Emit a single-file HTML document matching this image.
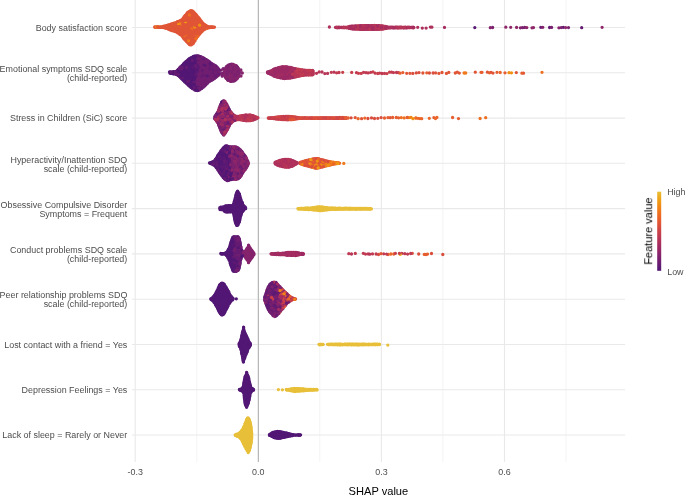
<!DOCTYPE html>
<html><head><meta charset="utf-8"><style>
html,body{margin:0;padding:0;background:#fff;}
svg{display:block;}
text{font-family:"Liberation Sans",sans-serif;}
</style></head><body>
<svg width="685" height="496" viewBox="0 0 685 496">
<defs><linearGradient id="lg" x1="0" y1="0" x2="0" y2="1"><stop offset="0.00" stop-color="#e8bf38"/><stop offset="0.10" stop-color="#efa116"/><stop offset="0.20" stop-color="#f18417"/><stop offset="0.30" stop-color="#ee6a24"/><stop offset="0.40" stop-color="#e05536"/><stop offset="0.50" stop-color="#cc4248"/><stop offset="0.60" stop-color="#b73557"/><stop offset="0.70" stop-color="#a02a63"/><stop offset="0.80" stop-color="#85236d"/><stop offset="0.90" stop-color="#6c1d72"/><stop offset="1.00" stop-color="#521674"/></linearGradient></defs>
<rect width="685" height="496" fill="#fff"/>
<line x1="196.8" x2="196.8" y1="0" y2="462" stroke="#efefef" stroke-width="0.7"/>
<line x1="319.8" x2="319.8" y1="0" y2="462" stroke="#efefef" stroke-width="0.7"/>
<line x1="442.9" x2="442.9" y1="0" y2="462" stroke="#efefef" stroke-width="0.7"/>
<line x1="566.0" x2="566.0" y1="0" y2="462" stroke="#efefef" stroke-width="0.7"/>
<line x1="135.2" x2="135.2" y1="0" y2="462" stroke="#e9e9e9" stroke-width="1.1"/>
<line x1="258.3" x2="258.3" y1="0" y2="462" stroke="#e9e9e9" stroke-width="1.1"/>
<line x1="381.4" x2="381.4" y1="0" y2="462" stroke="#e9e9e9" stroke-width="1.1"/>
<line x1="504.5" x2="504.5" y1="0" y2="462" stroke="#e9e9e9" stroke-width="1.1"/>
<line x1="132" x2="625" y1="27.5" y2="27.5" stroke="#e9e9e9" stroke-width="1.1"/>
<line x1="132" x2="625" y1="72.8" y2="72.8" stroke="#e9e9e9" stroke-width="1.1"/>
<line x1="132" x2="625" y1="118.1" y2="118.1" stroke="#e9e9e9" stroke-width="1.1"/>
<line x1="132" x2="625" y1="163.3" y2="163.3" stroke="#e9e9e9" stroke-width="1.1"/>
<line x1="132" x2="625" y1="208.6" y2="208.6" stroke="#e9e9e9" stroke-width="1.1"/>
<line x1="132" x2="625" y1="253.9" y2="253.9" stroke="#e9e9e9" stroke-width="1.1"/>
<line x1="132" x2="625" y1="299.2" y2="299.2" stroke="#e9e9e9" stroke-width="1.1"/>
<line x1="132" x2="625" y1="344.5" y2="344.5" stroke="#e9e9e9" stroke-width="1.1"/>
<line x1="132" x2="625" y1="389.7" y2="389.7" stroke="#e9e9e9" stroke-width="1.1"/>
<line x1="132" x2="625" y1="435.0" y2="435.0" stroke="#e9e9e9" stroke-width="1.1"/>
<line x1="258.4" x2="258.4" y1="0" y2="462" stroke="#b8b8b8" stroke-width="1.2"/>
<g fill="none" stroke-width="3.3" stroke-linecap="round">
<path stroke="#521674" d="M194.3 56.8h0M191.2 58.6h0M193.3 58.7h0M195.5 58.5h0M190.2 60.2h0M198.5 60.4h0M187.4 61.8h0M184.2 63.8h0M190.5 63.9h0M196.3 63.6h0M183.3 65.3h0M184.2 67.1h0M194.6 67.1h0M179.2 68.8h0M193.3 68.8h0M195.6 69.2h0M182.5 70.6h0M186.6 70.5h0M192.2 70.7h0M198.4 70.7h0M171.6 72.6h0M173.3 72.4h0M175.3 72.5h0M177.4 72.4h0M179.2 72.3h0M181.3 72.6h0M185.4 72.2h0M187.3 72.3h0M189.2 72.3h0M195.6 72.7h0M180.4 74.4h0M182.2 74.4h0M184.4 74.0h0M186.2 74.2h0M190.2 74.0h0M183.3 75.9h0M185.2 75.8h0M197.5 75.9h0M188.2 77.5h0M190.3 77.7h0M192.4 77.5h0M187.4 79.6h0M189.2 79.6h0M193.6 79.2h0M195.5 79.3h0M184.4 81.1h0M190.6 81.0h0M192.3 80.9h0M194.4 81.0h0M187.4 82.8h0M189.5 82.7h0M191.6 82.7h0M191.5 86.0h0M195.3 86.2h0M197.5 86.2h0M192.5 88.2h0M196.2 87.9h0M169.5 72.0h0M169.8 73.0h0M172.5 73.6h0M176.6 74.4h0M179.1 76.1h0M179.6 76.5h0M181.7 78.8h0M183.2 80.2h0M185.2 82.2h0M186.2 83.0h0M186.9 83.7h0M187.5 84.3h0M189.1 85.7h0M189.7 86.4h0M190.5 87.1h0M193.8 89.1h0M196.4 55.9h0M195.4 56.0h0M194.5 56.2h0M192.8 57.0h0M191.8 57.4h0M189.1 59.0h0M187.7 60.2h0M185.5 62.2h0M184.6 62.9h0M183.3 64.4h0M182.0 65.6h0M181.3 66.3h0M180.4 67.0h0M178.3 69.4h0M176.5 71.5h0M173.3 71.7h0M172.3 71.8h0M226.6 111.0h0M221.9 112.5h0M226.8 114.1h0M228.9 114.5h0M220.8 121.1h0M220.5 129.2h0M222.0 132.8h0M228.2 127.6h0M226.7 147.4h0M230.8 147.5h0M223.7 149.3h0M225.8 149.2h0M226.8 150.9h0M230.5 151.2h0M223.6 152.7h0M220.5 154.3h0M222.8 154.5h0M217.6 155.9h0M223.5 156.0h0M216.7 157.7h0M230.5 157.9h0M228.4 161.2h0M219.5 163.0h0M221.4 163.3h0M214.4 164.7h0M218.6 165.0h0M220.6 165.1h0M222.7 165.0h0M224.5 164.8h0M229.6 166.5h0M218.5 168.5h0M228.7 168.1h0M230.7 168.1h0M223.8 169.9h0M225.4 170.0h0M222.7 171.9h0M232.8 171.6h0M222.6 175.4h0M228.8 175.3h0M223.6 177.2h0M227.4 177.0h0M228.4 178.9h0M209.5 162.9h0M210.0 163.3h0M213.8 164.9h0M217.2 168.6h0M217.8 169.4h0M221.1 174.4h0M223.5 177.6h0M226.6 180.1h0M228.4 180.3h0M229.4 147.0h0M224.9 146.5h0M224.2 147.2h0M220.5 151.9h0M219.9 152.7h0M219.2 153.5h0M217.2 156.9h0M216.7 157.6h0M216.1 158.6h0M215.4 159.4h0M215.0 160.3h0M214.2 161.0h0M213.2 161.6h0M210.5 162.7h0M237.6 192.7h0M238.8 194.6h0M237.6 196.1h0M238.4 197.3h0M237.9 199.3h0M237.0 200.6h0M238.7 200.9h0M240.3 200.5h0M237.8 202.4h0M241.1 201.9h0M235.0 203.6h0M236.8 203.8h0M240.6 203.9h0M239.7 205.4h0M243.1 205.4h0M224.3 207.0h0M225.8 207.0h0M227.6 206.8h0M229.4 207.0h0M233.4 206.7h0M236.6 207.0h0M238.8 207.0h0M240.2 206.8h0M242.0 207.0h0M243.9 206.7h0M221.7 208.6h0M223.2 208.2h0M228.7 208.6h0M236.1 208.3h0M239.5 208.6h0M244.9 208.4h0M224.1 210.0h0M225.8 210.2h0M230.4 211.7h0M234.3 211.4h0M235.8 211.4h0M236.9 213.0h0M237.7 214.6h0M239.7 214.8h0M238.8 216.3h0M235.9 217.8h0M239.6 217.9h0M237.0 219.3h0M235.7 220.9h0M237.8 220.7h0M237.0 222.3h0M238.6 222.3h0M237.9 223.9h0M219.8 207.7h0M219.7 208.5h0M220.0 209.5h0M224.0 210.2h0M227.2 211.9h0M229.4 211.7h0M233.2 212.2h0M233.9 214.1h0M233.9 215.0h0M234.1 216.1h0M234.4 217.1h0M234.8 219.0h0M235.1 221.0h0M235.3 222.1h0M235.6 222.9h0M236.6 224.9h0M237.6 225.2h0M238.2 224.6h0M238.6 223.6h0M238.9 222.6h0M239.6 220.6h0M240.1 217.7h0M240.3 216.8h0M240.5 215.8h0M242.8 211.3h0M244.0 209.6h0M244.7 209.1h0M245.6 208.7h0M245.1 206.8h0M244.4 206.3h0M243.0 204.9h0M242.3 202.8h0M241.3 201.1h0M240.9 200.1h0M240.5 198.2h0M240.1 197.1h0M240.0 196.3h0M239.6 195.3h0M239.5 194.2h0M238.5 192.6h0M237.2 191.8h0M236.2 194.5h0M235.2 198.5h0M234.3 201.5h0M233.1 205.2h0M229.5 205.7h0M225.4 205.8h0M224.5 206.3h0M223.5 207.0h0M221.6 207.3h0M220.7 207.2h0M233.8 237.2h0M233.8 240.6h0M231.2 242.0h0M232.9 242.0h0M235.0 242.5h0M232.0 243.9h0M234.1 243.8h0M238.0 243.7h0M230.2 247.4h0M233.8 247.2h0M231.1 248.7h0M233.3 248.7h0M232.1 250.3h0M231.4 252.2h0M233.0 252.3h0M235.1 252.0h0M224.6 253.6h0M227.3 255.6h0M231.3 255.3h0M233.0 255.6h0M228.4 257.1h0M230.3 256.9h0M229.1 258.9h0M231.1 258.7h0M233.3 258.9h0M232.1 260.2h0M231.2 261.9h0M233.9 263.8h0M236.1 263.4h0M233.1 265.1h0M235.7 266.8h0M233.1 268.7h0M233.9 270.1h0M220.8 253.5h0M222.3 254.0h0M223.4 253.8h0M224.3 253.9h0M225.2 254.3h0M227.5 256.4h0M228.2 258.3h0M228.9 259.2h0M229.1 260.1h0M229.6 260.8h0M230.0 261.8h0M230.1 262.9h0M230.9 264.9h0M231.1 265.8h0M231.4 266.6h0M231.7 267.5h0M232.1 268.5h0M232.5 269.6h0M235.6 271.4h0M240.1 262.4h0M241.1 258.6h0M239.8 241.3h0M234.9 236.8h0M233.0 237.1h0M232.0 239.8h0M231.5 240.7h0M231.3 241.7h0M229.6 247.5h0M228.6 249.1h0M228.1 250.1h0M227.1 251.8h0M222.6 253.6h0M221.7 253.6h0M221.6 283.7h0M224.6 285.2h0M219.8 287.0h0M218.8 288.5h0M224.4 288.7h0M217.7 290.6h0M223.5 290.5h0M225.5 290.3h0M216.5 292.3h0M222.6 291.9h0M224.4 292.3h0M215.5 293.8h0M221.4 293.7h0M225.5 293.9h0M216.4 295.5h0M218.5 295.5h0M222.7 295.5h0M228.8 295.5h0M215.6 297.2h0M217.7 297.3h0M221.8 297.2h0M223.8 297.2h0M229.6 297.2h0M212.6 298.9h0M214.7 299.2h0M216.7 299.1h0M220.6 299.3h0M222.5 299.0h0M224.8 298.9h0M226.6 299.2h0M230.5 299.2h0M232.6 299.0h0M213.5 300.9h0M215.4 300.9h0M217.5 300.8h0M219.8 301.0h0M221.7 300.6h0M229.8 300.9h0M214.6 302.7h0M216.8 302.4h0M218.4 302.6h0M220.4 302.7h0M226.4 302.7h0M222.8 306.2h0M224.5 306.0h0M226.7 306.0h0M223.6 307.7h0M218.6 309.3h0M222.5 309.4h0M221.5 311.4h0M223.7 311.4h0M221.6 314.6h0M211.9 300.1h0M213.6 301.3h0M214.7 303.0h0M215.1 303.8h0M215.6 304.8h0M217.7 308.5h0M218.4 310.0h0M220.0 312.8h0M222.9 314.7h0M223.5 314.2h0M224.5 312.4h0M225.2 311.6h0M225.4 310.6h0M226.9 308.0h0M228.2 305.3h0M228.6 304.3h0M230.0 302.6h0M230.5 301.8h0M231.0 301.0h0M231.6 300.2h0M232.8 298.1h0M232.0 297.6h0M231.4 296.8h0M229.7 294.3h0M228.5 291.6h0M227.7 290.8h0M226.9 289.1h0M226.3 288.1h0M224.4 284.7h0M222.1 283.1h0M219.3 285.7h0M218.5 287.7h0M218.1 288.5h0M217.7 289.6h0M217.2 290.5h0M216.7 291.3h0M216.0 293.0h0M215.5 294.1h0M214.8 295.0h0M214.3 295.6h0M212.2 297.8h0M236.3 298.8h0M243.5 331.0h0M242.6 332.6h0M244.2 332.9h0M243.7 334.3h0M245.4 334.2h0M242.4 335.3h0M244.1 335.6h0M246.2 335.7h0M241.6 337.0h0M243.2 336.9h0M245.2 336.9h0M242.4 338.4h0M244.4 338.3h0M241.5 339.8h0M242.8 341.5h0M244.1 341.6h0M247.8 341.5h0M243.6 343.2h0M246.9 343.1h0M240.7 344.6h0M247.5 344.5h0M249.3 344.3h0M241.8 345.6h0M243.2 346.0h0M245.1 345.8h0M247.1 346.1h0M240.8 347.5h0M246.2 347.5h0M241.9 348.8h0M245.2 348.7h0M244.3 350.3h0M246.0 353.5h0M242.5 356.1h0M243.5 357.9h0M243.3 360.6h0M243.6 327.1h0M239.1 344.4h0M239.2 345.6h0M240.2 347.2h0M240.9 349.0h0M241.8 354.1h0M242.3 355.0h0M243.4 361.0h0M243.7 360.1h0M244.6 358.2h0M245.1 356.2h0M245.6 355.3h0M246.3 353.4h0M247.1 351.4h0M247.7 349.7h0M248.8 347.8h0M249.8 346.1h0M250.3 343.4h0M247.3 338.0h0M247.0 337.2h0M246.6 336.4h0M244.7 332.5h0M243.4 329.9h0M241.7 336.0h0M241.5 337.1h0M241.5 338.0h0M241.1 338.8h0M240.8 339.9h0M245.6 376.7h0M248.1 377.8h0M247.2 379.7h0M244.8 381.1h0M248.1 380.8h0M245.3 382.2h0M248.9 382.5h0M244.5 383.8h0M246.5 383.7h0M248.2 384.0h0M245.6 385.1h0M247.4 385.1h0M244.7 386.7h0M246.4 386.6h0M247.9 386.9h0M249.9 386.7h0M243.9 388.3h0M245.4 388.2h0M247.2 388.3h0M246.5 390.0h0M253.0 389.5h0M250.7 391.3h0M246.4 392.7h0M247.9 392.5h0M247.3 393.9h0M249.5 395.7h0M245.5 397.1h0M247.2 397.1h0M248.7 397.2h0M244.8 398.6h0M246.5 398.7h0M245.4 400.0h0M247.1 400.0h0M248.7 399.8h0M246.4 401.4h0M248.0 401.4h0M245.4 402.9h0M247.4 402.8h0M246.7 373.0h0M246.6 407.3h0M240.0 390.2h0M241.9 390.9h0M242.6 391.4h0M243.7 393.2h0M244.1 394.0h0M244.1 395.2h0M244.2 395.9h0M244.3 397.1h0M244.5 399.0h0M244.8 399.9h0M245.4 404.2h0M246.7 406.3h0M247.6 404.6h0M248.1 403.7h0M249.2 398.7h0M249.4 397.9h0M249.8 395.8h0M251.4 391.2h0M252.3 390.7h0M252.0 388.4h0M251.1 387.6h0M250.5 386.8h0M250.4 385.8h0M247.9 376.1h0M246.6 374.1h0M246.1 374.8h0M245.5 375.9h0M244.9 377.9h0M244.7 378.7h0M244.3 381.8h0M243.8 383.6h0M243.7 384.7h0M242.9 387.5h0M278.6 433.5h0M280.3 433.2h0M286.2 433.3h0M271.4 435.0h0M285.5 435.1h0M289.5 435.0h0M291.3 435.2h0M293.5 435.1h0M295.6 435.1h0M297.4 435.2h0M280.4 437.0h0M269.4 434.6h0M273.2 437.1h0M274.1 437.6h0M278.9 438.1h0M280.9 438.0h0M282.1 437.7h0M282.9 437.3h0M284.8 437.0h0M287.8 436.5h0M291.0 435.8h0M292.0 435.7h0M293.9 435.2h0M294.9 435.2h0M295.8 435.3h0M296.7 435.2h0M297.9 435.2h0M300.6 434.8h0M297.7 434.8h0M296.6 434.8h0M295.5 434.9h0M294.4 434.9h0M291.7 434.3h0M290.5 434.1h0M289.6 433.9h0M287.8 433.5h0M282.7 432.3h0M281.7 431.9h0M280.7 431.9h0M278.9 431.7h0M277.8 431.5h0M275.8 431.8h0M273.8 432.3h0M272.8 432.4h0M272.0 432.9h0"/>
<path stroke="#e8bf38" d="M320.9 207.1h0M300.0 208.6h0M301.6 208.5h0M305.6 208.5h0M307.6 208.6h0M314.0 208.6h0M315.6 208.6h0M317.7 208.9h0M319.6 208.6h0M322.0 208.6h0M329.6 208.6h0M333.7 208.5h0M338.0 208.8h0M341.7 208.7h0M343.7 208.7h0M355.9 208.8h0M357.7 208.9h0M320.9 210.3h0M298.5 209.0h0M300.4 209.1h0M302.4 209.1h0M305.4 209.3h0M307.3 209.4h0M308.3 209.5h0M309.3 209.5h0M310.4 209.4h0M311.4 209.6h0M312.4 209.6h0M314.4 209.9h0M315.4 210.0h0M316.4 210.2h0M317.3 210.2h0M322.5 210.5h0M323.3 210.2h0M326.4 209.9h0M329.4 209.5h0M333.5 209.2h0M334.5 209.4h0M335.4 209.3h0M339.5 209.2h0M341.4 209.0h0M345.3 209.0h0M346.2 209.0h0M347.5 209.1h0M349.3 209.0h0M350.4 209.0h0M354.4 208.9h0M359.5 209.0h0M363.5 208.9h0M364.4 209.1h0M366.4 208.8h0M371.4 208.9h0M371.0 208.6h0M369.0 208.6h0M366.0 208.5h0M364.0 208.5h0M362.8 208.5h0M355.8 208.4h0M353.7 208.3h0M351.9 208.5h0M349.9 208.2h0M348.7 208.3h0M345.6 208.3h0M344.8 208.2h0M342.9 208.4h0M337.9 208.5h0M335.7 208.2h0M333.8 208.2h0M330.7 208.2h0M329.7 207.9h0M328.7 207.8h0M327.7 207.9h0M326.8 207.7h0M324.9 207.3h0M321.8 206.9h0M320.9 207.0h0M319.8 206.9h0M317.8 207.0h0M315.9 207.3h0M314.7 207.4h0M313.9 207.7h0M311.9 207.9h0M311.0 207.8h0M309.9 208.1h0M308.8 208.1h0M307.7 208.0h0M301.8 208.5h0M300.7 208.4h0M298.7 208.6h0M323.0 344.4h0M319.0 344.3h0M319.5 344.8h0M321.0 344.4h0M329.6 344.5h0M331.4 344.2h0M333.7 344.4h0M335.5 344.3h0M339.3 344.5h0M341.3 344.4h0M343.5 344.6h0M347.3 344.3h0M351.4 344.4h0M355.4 344.4h0M365.6 344.3h0M367.3 344.6h0M371.6 344.3h0M373.5 344.2h0M377.5 344.6h0M327.5 344.3h0M328.2 344.5h0M329.2 344.7h0M331.1 344.6h0M333.3 344.6h0M334.2 344.8h0M335.3 344.6h0M336.1 344.6h0M337.3 344.8h0M338.1 344.7h0M339.3 344.8h0M341.3 344.7h0M342.2 344.8h0M343.1 344.7h0M350.1 344.7h0M351.3 344.9h0M356.3 344.7h0M357.1 344.7h0M360.1 344.6h0M362.1 344.8h0M363.1 344.6h0M364.2 344.8h0M368.0 344.7h0M374.2 344.7h0M377.2 344.6h0M378.2 344.6h0M379.6 344.3h0M377.6 344.2h0M376.5 344.2h0M375.5 344.2h0M373.7 344.3h0M371.5 344.3h0M370.6 344.4h0M369.4 344.3h0M367.5 344.3h0M364.6 344.1h0M363.4 344.1h0M356.6 344.1h0M353.4 344.1h0M351.4 344.2h0M350.5 344.1h0M349.4 344.1h0M348.5 344.1h0M346.5 344.3h0M345.6 344.2h0M342.4 344.3h0M340.4 344.1h0M337.4 344.1h0M336.6 344.1h0M332.6 344.2h0M330.4 344.3h0M329.5 344.4h0M278.4 389.6h0M282.4 389.8h0M288.5 389.7h0M298.4 389.5h0M302.6 389.8h0M304.5 389.7h0M308.4 389.6h0M314.6 389.9h0M316.3 389.7h0M287.8 390.1h0M289.0 390.2h0M290.7 390.7h0M293.8 391.3h0M295.8 391.3h0M296.9 391.2h0M297.9 391.1h0M298.8 391.1h0M303.1 390.8h0M304.9 390.6h0M309.0 390.2h0M310.0 390.0h0M310.9 390.1h0M312.1 390.0h0M313.2 390.0h0M315.2 389.8h0M317.1 389.9h0M316.8 389.5h0M315.6 389.6h0M314.6 389.6h0M310.6 389.5h0M309.7 389.5h0M307.5 389.3h0M306.5 389.4h0M302.6 388.8h0M299.6 388.7h0M296.6 388.6h0M295.4 388.6h0M294.5 388.5h0M293.4 388.7h0M292.5 388.9h0M290.6 389.2h0M288.5 389.3h0M246.9 420.2h0M246.1 421.8h0M247.8 421.9h0M249.8 421.6h0M246.0 424.9h0M249.4 424.9h0M248.6 426.4h0M250.3 426.3h0M246.1 427.5h0M247.9 427.9h0M245.5 429.2h0M250.3 429.4h0M242.7 430.4h0M247.7 430.9h0M251.4 430.5h0M243.5 432.2h0M245.4 432.3h0M247.2 432.3h0M248.8 432.0h0M250.2 432.3h0M239.2 433.6h0M242.9 433.8h0M244.5 433.7h0M247.6 433.7h0M236.8 435.3h0M238.6 435.1h0M241.9 435.2h0M243.8 435.0h0M248.8 435.0h0M241.3 436.7h0M244.7 436.6h0M246.4 436.3h0M249.3 436.4h0M245.5 437.9h0M248.8 438.0h0M250.5 438.0h0M244.6 439.3h0M246.2 439.6h0M248.1 439.3h0M251.5 439.6h0M243.8 440.8h0M248.8 440.8h0M250.3 441.2h0M244.7 442.5h0M247.7 442.5h0M249.5 442.3h0M250.5 443.9h0M246.1 445.1h0M245.9 448.6h0M248.0 448.3h0M246.8 450.0h0M248.6 449.8h0M247.9 451.4h0M248.2 452.5h0M235.5 435.5h0M236.5 435.8h0M238.3 436.4h0M239.1 437.2h0M240.1 437.7h0M240.6 438.4h0M243.2 442.7h0M243.5 443.8h0M244.1 444.7h0M245.4 447.2h0M245.9 448.2h0M246.5 449.1h0M246.9 449.9h0M247.5 450.9h0M248.0 451.7h0M249.1 450.9h0M249.6 448.8h0M250.2 447.1h0M250.5 445.0h0M250.9 444.0h0M251.3 442.2h0M251.5 440.1h0M251.3 438.9h0M251.7 437.9h0M251.7 437.0h0M251.6 435.0h0M251.8 433.9h0M251.5 432.0h0M251.4 431.1h0M251.0 426.9h0M250.9 425.9h0M250.5 424.0h0M248.9 419.1h0M248.4 418.2h0M247.7 417.8h0M246.5 420.4h0M246.0 421.5h0M245.6 422.4h0M244.9 424.2h0M244.7 425.4h0M244.1 426.3h0M243.4 428.1h0M239.9 432.7h0"/>
<path stroke="#e05536" d="M189.6 11.5h0M188.4 13.2h0M190.7 13.0h0M191.5 14.7h0M193.6 15.1h0M186.8 16.9h0M188.5 16.6h0M192.8 16.7h0M196.8 16.7h0M185.7 18.3h0M189.4 18.3h0M193.6 18.4h0M195.7 18.3h0M182.5 20.4h0M188.4 20.4h0M190.5 20.3h0M196.5 20.1h0M179.8 21.8h0M189.8 22.0h0M199.6 21.7h0M174.5 23.8h0M184.8 23.4h0M186.7 23.8h0M188.7 23.8h0M192.8 23.6h0M196.5 23.7h0M202.7 23.7h0M169.4 25.4h0M173.7 25.6h0M177.5 25.2h0M179.7 25.3h0M181.5 25.5h0M183.6 25.5h0M187.5 25.2h0M191.8 25.3h0M193.6 25.3h0M201.4 25.5h0M205.6 25.1h0M160.8 27.3h0M162.4 27.1h0M168.7 27.1h0M178.6 27.3h0M182.5 27.2h0M186.8 27.3h0M190.8 27.3h0M192.4 27.1h0M196.4 27.2h0M198.5 27.2h0M200.4 27.1h0M208.7 27.2h0M212.5 27.3h0M169.5 29.0h0M173.6 28.8h0M175.4 29.1h0M187.8 28.8h0M189.4 28.9h0M193.5 28.9h0M195.5 28.9h0M201.6 28.8h0M203.6 28.7h0M172.7 30.6h0M176.5 30.7h0M182.8 30.4h0M184.7 30.4h0M188.4 30.5h0M192.8 30.8h0M194.6 30.7h0M196.7 30.4h0M200.6 30.6h0M202.4 30.4h0M177.8 32.5h0M179.4 32.5h0M181.7 32.2h0M183.6 32.3h0M189.6 32.1h0M191.6 32.1h0M193.8 32.4h0M197.6 32.5h0M190.7 34.1h0M198.7 34.2h0M183.4 35.8h0M191.8 35.8h0M193.7 35.9h0M197.4 35.7h0M190.6 37.4h0M185.4 39.5h0M189.6 39.5h0M193.6 39.5h0M186.7 40.8h0M190.4 40.9h0M190.5 44.2h0M154.7 27.0h0M156.3 27.3h0M157.2 27.2h0M159.2 27.2h0M162.3 27.4h0M163.2 27.6h0M165.4 28.0h0M168.2 29.0h0M169.1 29.5h0M169.9 29.7h0M171.8 30.5h0M172.9 30.6h0M176.5 31.9h0M177.4 32.7h0M178.3 33.1h0M179.0 33.7h0M180.7 34.8h0M181.5 35.4h0M182.2 36.3h0M182.9 37.0h0M183.9 38.5h0M184.7 39.5h0M188.1 42.9h0M189.4 44.4h0M190.4 44.9h0M191.3 44.8h0M192.1 44.3h0M193.0 43.7h0M193.5 42.9h0M194.0 42.0h0M195.1 40.4h0M195.4 39.3h0M196.6 37.8h0M198.4 35.3h0M199.2 34.6h0M202.4 30.9h0M203.1 30.1h0M206.7 28.5h0M207.8 28.0h0M208.6 27.8h0M209.7 27.7h0M210.6 27.4h0M211.7 27.1h0M214.5 27.1h0M213.7 27.1h0M212.7 26.9h0M205.0 24.9h0M202.7 23.0h0M202.0 22.4h0M200.8 20.6h0M200.2 20.1h0M199.0 18.2h0M197.8 16.9h0M192.3 10.9h0M191.3 10.7h0M187.7 12.3h0M186.6 14.0h0M186.1 14.7h0M185.2 15.4h0M184.8 16.2h0M182.9 18.6h0M182.1 19.5h0M181.6 20.1h0M179.6 20.9h0M178.7 21.3h0M177.1 22.2h0M174.1 23.1h0M171.3 24.0h0M170.2 24.6h0M169.4 24.7h0M167.4 25.5h0M166.6 25.6h0M162.7 26.7h0M160.5 26.8h0M158.6 26.9h0M435.6 72.9h0M446.4 73.4h0M459.3 73.1h0M475.3 72.2h0M493.0 73.1h0M523.5 73.2h0M300.4 118.3h0M306.6 118.1h0M310.4 118.3h0M310.0 118.2h0M314.8 118.3h0M317.9 118.2h0M326.0 118.2h0M338.0 118.2h0M339.9 118.2h0M335.4 117.9h0M333.3 117.8h0M302.2 117.8h0M298.3 117.6h0M293.2 116.9h0M291.4 116.7h0M340.0 117.5h0M321.2 161.2h0M304.2 163.3h0M307.9 162.9h0M318.1 163.0h0M324.2 163.2h0M308.9 165.0h0M327.2 164.7h0M318.3 166.8h0M302.7 164.7h0M303.7 164.8h0M320.1 167.3h0M321.2 167.1h0M322.1 167.1h0M327.0 165.6h0M328.9 165.1h0M329.1 161.6h0M326.1 160.9h0M324.3 160.5h0M322.5 159.9h0M318.5 158.7h0M315.6 158.7h0M309.7 159.8h0M304.8 160.9h0M303.8 161.3h0"/>
<path stroke="#661b73" d="M540.8 27.3h0M200.6 60.3h0M198.6 63.7h0M211.5 65.5h0M180.2 67.4h0M190.5 67.3h0M192.3 67.2h0M200.3 67.4h0M187.4 69.0h0M201.3 68.8h0M217.5 68.9h0M196.2 70.5h0M211.2 72.5h0M194.3 73.9h0M210.3 74.4h0M195.4 75.9h0M209.5 76.0h0M205.5 79.4h0M211.5 79.2h0M186.2 81.0h0M188.5 81.1h0M196.6 81.2h0M204.5 81.3h0M193.6 82.6h0M194.2 87.9h0M178.1 75.4h0M194.8 89.9h0M197.7 90.6h0M201.2 88.7h0M205.6 84.8h0M217.7 75.8h0M219.0 72.7h0M217.1 67.2h0M212.1 63.9h0M205.8 59.3h0M200.2 56.6h0M199.4 56.3h0M228.9 110.9h0M217.7 112.4h0M218.5 114.4h0M229.7 116.1h0M228.6 117.7h0M218.9 124.6h0M226.9 124.8h0M224.5 128.2h0M223.8 135.0h0M214.8 116.6h0M214.7 118.7h0M216.1 120.0h0M228.0 107.0h0M219.9 107.0h0M216.6 114.5h0M224.7 150.7h0M225.6 152.9h0M228.8 154.3h0M232.5 154.6h0M225.8 159.4h0M235.6 159.5h0M225.4 162.9h0M229.4 163.1h0M237.5 163.0h0M239.8 162.9h0M244.7 164.7h0M217.8 166.6h0M231.8 166.7h0M241.8 166.5h0M238.5 168.3h0M219.4 170.1h0M224.5 171.6h0M230.8 171.9h0M229.8 173.3h0M218.2 170.3h0M218.9 171.1h0M220.4 173.6h0M224.3 178.4h0M227.5 180.7h0M231.2 179.6h0M232.2 179.3h0M236.1 179.3h0M241.0 175.8h0M245.3 169.2h0M247.3 165.8h0M247.7 161.1h0M238.3 148.2h0M226.8 145.9h0M236.1 237.5h0M237.1 242.4h0M238.5 242.3h0M235.7 243.8h0M238.7 245.4h0M236.0 247.2h0M237.0 248.7h0M240.8 249.0h0M239.7 250.2h0M241.4 250.7h0M238.7 251.9h0M242.5 252.1h0M239.7 253.6h0M241.4 253.7h0M234.8 255.2h0M235.8 257.0h0M239.6 256.9h0M238.0 260.1h0M235.2 262.2h0M237.8 263.7h0M236.9 265.1h0M233.8 266.8h0M237.7 266.7h0M237.9 270.1h0M236.5 271.2h0M238.6 269.4h0M239.3 266.5h0M240.2 261.3h0M240.5 260.6h0M243.0 255.6h0M242.7 251.6h0M241.7 249.9h0M241.3 249.2h0M241.0 248.0h0M240.4 245.2h0M240.4 244.3h0M236.0 236.8h0M273.6 283.6h0M275.8 283.6h0M276.7 285.4h0M277.9 286.8h0M280.8 288.7h0M268.6 292.3h0M270.6 292.3h0M276.8 291.9h0M273.9 294.0h0M272.6 295.6h0M274.9 295.7h0M281.0 295.8h0M284.7 295.4h0M285.0 299.0h0M267.9 300.6h0M271.6 300.6h0M285.9 300.9h0M270.9 302.4h0M274.8 302.5h0M276.7 302.8h0M280.9 302.5h0M286.7 302.3h0M273.6 304.1h0M283.9 304.3h0M285.7 304.1h0M276.7 306.2h0M270.7 309.6h0M280.6 309.5h0M274.0 311.0h0M280.0 311.4h0M276.8 313.0h0M265.3 301.6h0M267.5 307.2h0M268.0 308.2h0M275.5 316.2h0M279.1 312.5h0M283.1 308.2h0M285.1 305.6h0M282.2 289.2h0M278.5 285.6h0M274.9 282.4h0M271.2 283.4h0M268.8 286.3h0M268.0 288.1h0M267.1 289.9h0"/>
<path stroke="#b73557" d="M368.3 25.6h0M337.3 27.7h0M343.6 27.4h0M347.6 27.3h0M351.3 27.6h0M357.5 27.4h0M365.5 27.3h0M379.3 27.5h0M391.4 27.5h0M405.6 27.3h0M407.3 27.4h0M370.3 29.3h0M341.2 27.6h0M354.0 28.9h0M355.9 29.0h0M359.0 29.1h0M364.1 29.4h0M368.2 29.2h0M371.2 29.2h0M375.1 29.2h0M376.2 29.2h0M377.0 29.4h0M378.0 29.3h0M380.0 29.1h0M382.2 29.1h0M387.1 28.2h0M389.0 27.7h0M391.0 27.7h0M396.9 27.8h0M398.9 27.8h0M405.1 27.7h0M406.9 27.8h0M407.9 27.6h0M413.9 27.6h0M411.2 27.3h0M403.2 27.3h0M402.4 27.4h0M393.1 27.3h0M392.3 27.1h0M388.3 27.1h0M381.3 25.9h0M376.3 25.6h0M375.4 25.7h0M374.5 25.7h0M373.4 25.6h0M364.5 25.6h0M357.5 25.8h0M356.5 26.0h0M354.3 26.1h0M353.4 26.2h0M351.4 26.2h0M346.4 27.5h0M344.6 27.4h0M341.5 27.4h0M339.4 27.4h0M338.6 27.2h0M294.6 70.9h0M298.5 70.5h0M308.7 70.6h0M310.8 70.8h0M312.8 70.8h0M293.5 72.3h0M295.6 72.4h0M301.7 72.7h0M303.6 72.6h0M296.4 74.3h0M298.6 74.1h0M312.6 74.1h0M291.7 75.9h0M297.7 76.0h0M288.6 77.5h0M294.5 77.0h0M303.3 75.4h0M304.3 75.1h0M306.2 74.8h0M312.4 74.8h0M313.2 72.3h0M313.2 71.1h0M312.7 70.5h0M311.7 70.6h0M308.7 70.4h0M306.7 70.3h0M304.6 70.2h0M303.7 70.2h0M302.5 70.0h0M298.7 69.3h0M297.7 69.1h0M316.5 73.3h0M319.2 71.9h0M334.0 72.2h0M251.6 115.9h0M236.8 117.5h0M240.7 117.6h0M250.9 117.6h0M252.6 117.7h0M231.8 119.5h0M237.8 119.5h0M249.6 119.6h0M234.0 120.6h0M237.9 119.6h0M240.7 119.7h0M247.9 120.6h0M251.8 120.3h0M252.7 120.1h0M257.2 118.0h0M256.9 117.3h0M254.2 116.3h0M248.2 115.1h0M247.3 115.2h0M246.1 114.9h0M241.4 116.1h0M239.3 116.3h0M235.2 115.9h0M283.2 162.9h0M292.9 162.9h0M279.8 164.8h0M288.5 167.1h0M290.3 166.7h0M294.0 165.1h0M296.0 164.0h0M351.5 254.0h0M265.5 302.5h0M293.7 298.5h0M266.8 291.0h0"/>
<path stroke="#85236d" d="M542.8 27.3h0M230.5 65.7h0M232.4 65.7h0M229.6 67.4h0M231.4 67.6h0M237.3 67.7h0M226.5 69.5h0M228.6 69.4h0M230.5 69.0h0M232.4 69.0h0M236.3 69.2h0M225.4 70.9h0M233.2 71.1h0M230.6 72.9h0M236.2 72.6h0M229.6 74.3h0M231.3 74.6h0M233.4 74.5h0M237.5 74.3h0M230.5 76.2h0M232.2 76.3h0M227.6 77.7h0M237.2 77.9h0M228.6 79.7h0M224.4 72.5h0M224.3 73.6h0M225.2 76.5h0M226.9 78.8h0M228.2 80.4h0M230.1 81.0h0M232.0 81.1h0M234.9 80.4h0M238.7 69.9h0M236.2 65.7h0M232.6 64.4h0M231.6 64.2h0M229.4 64.7h0M228.5 65.1h0M226.3 67.0h0M225.8 67.7h0M223.8 112.4h0M224.8 114.2h0M224.9 118.0h0M232.5 121.1h0M217.2 121.8h0M233.7 152.7h0M230.5 154.7h0M233.4 156.2h0M244.4 158.0h0M231.8 159.7h0M238.7 161.4h0M246.4 161.5h0M235.4 166.5h0M236.7 168.5h0M239.8 170.0h0M241.8 169.8h0M234.4 175.0h0M236.5 175.3h0M233.1 179.1h0M237.1 178.8h0M240.2 176.8h0M241.4 175.0h0M246.0 157.3h0M249.4 247.0h0M250.1 248.6h0M249.3 250.4h0M244.7 252.3h0M249.9 252.4h0M252.0 252.0h0M243.4 254.0h0M245.2 253.6h0M251.1 253.7h0M244.6 255.6h0M246.1 255.4h0M248.5 255.3h0M250.2 255.3h0M252.0 255.3h0M247.5 257.1h0M249.2 257.1h0M251.3 257.0h0M248.9 245.9h0M248.7 262.0h0M248.5 262.7h0M244.2 255.6h0M244.9 256.6h0M245.9 258.2h0M246.7 258.9h0M248.5 261.3h0M249.5 260.9h0M251.2 258.5h0M251.9 257.5h0M253.9 253.4h0M252.8 251.9h0M252.3 250.8h0M251.6 250.1h0M251.0 249.3h0M249.9 247.6h0M249.3 246.8h0M248.3 247.0h0M247.7 247.7h0M246.6 249.4h0M245.4 250.9h0M244.5 251.6h0M278.9 295.5h0M282.7 295.8h0M294.6 299.3h0M282.4 308.7h0M288.4 302.2h0M286.4 293.5h0M285.6 292.7h0M283.6 290.7h0M281.5 288.6h0"/>
<path stroke="#711e71" d="M198.4 56.8h0M201.2 58.8h0M202.4 60.1h0M204.5 60.5h0M206.6 60.2h0M199.5 61.8h0M201.2 62.1h0M203.4 61.9h0M209.6 61.8h0M202.6 63.6h0M204.5 63.6h0M206.5 63.7h0M208.4 63.5h0M199.6 65.6h0M201.3 65.6h0M208.6 67.2h0M210.5 67.2h0M199.6 69.1h0M203.3 68.8h0M207.2 68.9h0M211.2 69.1h0M200.2 70.9h0M208.5 70.8h0M210.5 70.5h0M212.2 70.9h0M214.4 70.5h0M203.4 72.4h0M209.6 72.3h0M204.4 74.2h0M212.2 74.2h0M214.5 74.4h0M216.4 74.0h0M218.5 74.2h0M203.3 75.8h0M211.6 76.1h0M213.6 76.1h0M217.5 75.7h0M206.3 77.8h0M210.3 77.8h0M199.4 79.1h0M207.4 79.2h0M209.2 79.1h0M198.4 81.3h0M200.5 81.1h0M206.4 80.9h0M208.5 81.1h0M201.2 82.6h0M205.5 82.7h0M196.4 84.4h0M202.2 84.5h0M204.3 84.4h0M198.5 87.9h0M197.4 89.8h0M199.4 89.9h0M195.7 90.1h0M199.4 89.8h0M202.7 87.4h0M203.5 87.0h0M204.2 86.4h0M204.9 85.7h0M210.1 80.9h0M211.0 80.6h0M212.7 79.4h0M214.5 78.4h0M218.3 75.3h0M217.8 68.2h0M216.2 66.7h0M213.0 64.4h0M211.3 63.5h0M209.8 62.3h0M206.5 59.8h0M204.9 58.9h0M204.0 58.2h0M203.1 57.9h0M197.4 55.9h0M219.8 109.3h0M216.8 117.6h0M223.5 126.2h0M238.9 249.0h0M234.2 250.7h0M236.1 250.4h0M240.9 255.2h0M240.7 258.7h0M233.0 261.8h0M237.3 270.6h0M241.3 257.5h0M239.5 240.1h0M270.6 285.2h0M272.7 285.3h0M274.0 287.0h0M277.0 288.4h0M268.0 293.9h0M274.0 297.3h0M274.0 300.7h0M276.0 300.6h0M272.0 304.2h0M273.8 307.9h0M269.0 309.2h0M276.7 309.5h0M266.0 293.9h0"/>
<path stroke="#7b216f" d="M492.6 27.5h0M221.3 70.2h0M222.2 76.2h0M233.6 67.5h0M234.2 69.4h0M227.3 71.2h0M232.2 72.6h0M236.3 76.2h0M234.2 79.8h0M224.5 74.6h0M225.5 77.3h0M233.2 81.0h0M235.8 79.8h0M237.8 77.6h0M238.6 75.9h0M238.9 74.8h0M239.1 74.0h0M239.2 71.9h0M238.1 68.1h0M230.6 64.3h0M226.9 66.3h0M225.8 105.6h0M220.5 107.1h0M225.9 115.9h0M220.7 118.0h0M219.7 119.3h0M233.6 119.3h0M218.9 121.4h0M226.9 121.4h0M224.5 124.7h0M225.5 126.4h0M214.8 117.8h0M220.0 128.2h0M223.3 134.4h0M228.7 126.7h0M221.4 103.1h0M217.6 112.6h0M216.9 113.5h0M231.6 149.2h0M233.5 149.3h0M235.4 149.2h0M228.4 151.2h0M231.8 152.6h0M236.6 154.3h0M235.7 156.2h0M239.4 155.9h0M243.4 156.0h0M240.8 157.8h0M243.6 159.7h0M236.4 161.2h0M240.4 161.5h0M231.4 163.1h0M243.4 163.2h0M247.7 163.2h0M234.8 164.7h0M232.7 168.1h0M234.6 168.5h0M240.4 168.5h0M233.7 170.2h0M234.8 171.5h0M229.4 176.9h0M234.1 179.2h0M244.8 169.9h0M246.4 167.5h0M247.9 164.8h0M246.7 159.2h0M245.4 156.5h0M242.3 152.3h0M239.7 149.4h0M239.1 148.9h0M237.3 147.6h0M234.6 147.0h0M227.7 146.1h0M274.6 288.9h0M273.6 290.5h0M275.7 290.2h0M282.7 292.1h0M266.6 295.8h0M269.6 297.4h0M290.6 299.1h0M269.7 300.6h0M273.0 302.4h0M276.0 304.4h0M279.7 304.2h0M272.8 309.6h0M264.8 300.6h0M267.0 306.3h0M272.5 314.6h0M273.9 315.9h0M274.8 316.5h0M277.0 314.9h0M285.6 305.0h0"/>
<path stroke="#a52c60" d="M378.7 25.6h0M341.5 27.4h0M355.6 27.4h0M361.4 27.6h0M363.5 27.3h0M377.3 27.7h0M401.7 27.3h0M362.6 29.3h0M366.3 29.2h0M344.1 27.6h0M366.1 29.3h0M373.2 29.2h0M386.1 28.3h0M392.0 27.7h0M395.9 27.6h0M404.1 27.9h0M406.0 27.8h0M386.5 26.7h0M365.2 25.6h0M359.5 25.8h0M355.4 26.0h0M352.4 26.2h0M286.4 67.0h0M283.7 68.8h0M289.4 68.7h0M280.7 70.8h0M284.7 70.8h0M277.5 72.3h0M287.8 72.2h0M281.6 76.1h0M267.5 71.9h0M268.3 73.2h0M276.6 76.8h0M281.5 77.9h0M282.4 78.1h0M285.4 78.4h0M287.4 78.1h0M288.5 78.1h0M295.6 68.8h0M291.7 67.8h0M290.9 67.5h0M289.8 67.5h0M288.8 67.3h0M273.1 69.6h0M271.4 70.7h0M270.4 71.1h0M269.5 71.3h0M224.9 107.4h0M220.9 114.4h0M223.7 119.3h0M222.5 131.4h0M225.8 131.9h0M226.8 130.3h0M229.3 125.8h0M227.4 106.1h0M225.0 101.5h0M218.4 110.8h0M278.7 253.7h0M280.7 254.1h0M282.8 253.8h0M284.9 254.1h0M291.1 253.9h0M294.9 253.8h0M299.0 254.0h0M300.9 253.8h0M273.5 254.1h0M277.6 254.4h0M284.5 254.7h0M286.5 255.1h0M288.4 255.2h0M291.5 255.4h0M292.7 255.3h0M299.4 254.5h0M300.6 254.4h0M301.9 253.5h0M298.8 252.9h0M296.0 252.3h0M293.8 252.5h0M293.0 252.5h0M287.0 252.6h0M282.8 253.2h0M278.8 253.3h0M279.6 287.0h0M278.9 288.7h0M289.0 295.8h0M285.8 297.6h0M278.6 302.6h0M287.7 302.7h0"/>
<path stroke="#ae305c" d="M362.7 25.6h0M359.7 27.3h0M369.3 27.7h0M383.5 27.5h0M368.3 29.2h0M374.6 29.3h0M376.4 29.0h0M378.5 29.0h0M335.5 27.3h0M347.2 27.7h0M348.1 27.9h0M362.0 29.3h0M367.2 29.4h0M374.2 29.4h0M383.9 28.8h0M398.0 27.9h0M403.0 27.8h0M412.0 27.6h0M413.0 27.8h0M412.3 27.4h0M398.4 27.2h0M394.3 27.3h0M385.3 26.3h0M372.4 25.6h0M370.4 25.8h0M363.4 25.8h0M362.4 25.8h0M340.4 27.3h0M329.4 27.0h0M417.7 27.3h0M430.4 27.1h0M431.9 27.2h0M220.8 111.0h0M217.9 116.1h0M233.9 116.2h0M247.6 116.0h0M238.5 117.8h0M246.7 117.7h0M239.7 119.4h0M222.7 121.4h0M219.7 123.1h0M227.5 126.5h0M217.6 122.6h0M231.4 122.5h0M239.8 119.7h0M256.4 118.5h0M251.3 115.3h0M249.4 115.1h0M245.3 115.1h0M238.2 116.3h0M236.3 116.4h0M229.7 110.6h0M225.3 102.6h0M289.2 159.9h0M278.1 161.4h0M282.0 161.5h0M277.1 162.9h0M279.2 162.9h0M286.1 165.0h0M288.2 165.1h0M290.2 165.0h0M292.0 164.8h0M293.8 164.8h0M283.1 166.4h0M284.9 166.5h0M277.5 165.0h0M284.3 166.8h0M291.5 166.4h0M293.3 165.5h0M295.0 164.5h0M297.1 162.7h0M296.2 162.3h0M292.7 160.6h0M291.6 160.4h0M289.8 159.8h0M287.8 159.5h0M285.8 159.4h0M282.8 159.6h0M281.8 160.0h0M276.9 161.6h0M276.0 162.0h0M284.0 297.2h0M289.7 297.2h0M290.0 300.9h0M293.6 299.4h0M285.0 292.1h0"/>
<path stroke="#d94d3d" d="M412.8 73.4h0M416.3 72.9h0M429.4 73.0h0M302.6 118.1h0M308.5 118.1h0M318.6 118.3h0M326.3 118.0h0M330.5 118.0h0M342.4 118.1h0M293.0 119.5h0M294.0 119.3h0M296.1 118.8h0M297.9 118.5h0M308.9 118.2h0M311.0 118.3h0M320.1 118.3h0M322.0 118.1h0M324.9 118.3h0M327.9 118.1h0M332.0 118.1h0M333.8 118.3h0M336.0 118.1h0M342.0 118.2h0M344.0 118.3h0M345.2 118.0h0M337.3 118.0h0M331.4 118.1h0M330.2 118.0h0M327.4 117.9h0M319.1 117.8h0M317.4 117.9h0M314.3 118.0h0M313.2 118.0h0M309.3 118.0h0M308.3 118.0h0M296.3 117.3h0M367.9 118.5h0M377.8 118.3h0M312.1 159.5h0M307.3 161.5h0M310.9 161.6h0M327.1 161.6h0M306.3 163.0h0M316.3 162.9h0M328.0 162.9h0M305.2 165.0h0M307.1 165.0h0M319.0 164.8h0M300.0 162.5h0M300.0 163.6h0M300.9 163.9h0M308.7 166.2h0M310.5 166.6h0M314.3 167.8h0M317.4 168.1h0M325.9 165.9h0M329.9 165.0h0M316.4 158.6h0M313.5 158.8h0M308.7 159.8h0M412.3 253.3h0M431.5 253.5h0M280.6 299.2h0M283.0 299.0h0M287.0 299.2h0M291.7 300.0h0M291.0 297.2h0M288.0 294.8h0"/>
<path stroke="#9b2965" d="M284.8 67.5h0M281.4 69.2h0M285.8 69.1h0M272.6 70.6h0M276.4 70.9h0M288.8 70.8h0M269.5 72.2h0M291.4 72.4h0M272.4 74.2h0M284.4 74.4h0M288.4 74.3h0M290.5 74.1h0M277.8 75.7h0M287.8 76.1h0M284.8 77.8h0M267.5 72.8h0M272.0 74.7h0M274.8 76.4h0M279.5 77.6h0M280.5 77.8h0M283.4 78.3h0M289.4 78.1h0M285.7 67.1h0M281.8 67.1h0M275.9 68.4h0M274.9 68.8h0M223.8 109.3h0M221.6 119.7h0M227.7 119.3h0M224.7 121.0h0M229.9 122.7h0M225.5 129.7h0M223.6 133.5h0M226.5 131.0h0M231.0 123.2h0M226.1 103.3h0M219.3 107.8h0M274.8 254.1h0M277.1 254.1h0M287.1 253.7h0M271.0 253.8h0M281.5 254.7h0M282.5 254.7h0M287.4 255.3h0M290.7 255.3h0M301.0 253.3h0M284.1 253.1h0M272.0 253.7h0"/>
<path stroke="#c03a51" d="M295.7 68.9h0M300.7 70.8h0M297.7 72.3h0M311.5 72.3h0M292.6 74.1h0M306.6 74.1h0M298.4 76.1h0M299.2 76.1h0M302.4 75.3h0M311.3 74.9h0M305.7 70.4h0M300.7 69.9h0M296.6 69.2h0M293.6 68.4h0M331.3 72.3h0M336.6 72.8h0M339.0 72.5h0M356.5 72.7h0M366.0 72.7h0M375.2 73.2h0M384.5 73.4h0M391.6 72.2h0M393.5 72.6h0M396.5 72.5h0M398.5 72.6h0M243.8 115.8h0M248.7 117.6h0M235.8 120.0h0M248.8 120.7h0M249.7 120.7h0M253.2 115.7h0M250.1 115.0h0M244.3 115.5h0M276.5 118.1h0M278.2 119.1h0M286.9 119.7h0M287.3 116.5h0M286.4 116.4h0M348.8 253.7h0M368.1 253.9h0M372.5 253.9h0M383.7 253.8h0M401.8 253.4h0M404.8 253.7h0M410.7 253.5h0"/>
<path stroke="#8f2669" d="M505.8 27.2h0M516.6 27.4h0M223.7 105.5h0M225.9 112.4h0M230.8 114.2h0M226.8 117.8h0M232.9 117.7h0M215.5 119.5h0M228.9 121.1h0M221.6 122.9h0M228.9 124.6h0M222.5 128.4h0M216.5 121.0h0M220.7 130.0h0M225.4 132.7h0M229.5 124.9h0M233.1 120.9h0M233.7 115.2h0M230.3 111.5h0M220.5 105.1h0M220.1 106.0h0M232.4 147.6h0M234.4 147.4h0M238.7 150.9h0M240.6 151.2h0M237.4 152.7h0M239.8 152.8h0M236.8 157.8h0M237.6 159.6h0M235.5 163.0h0M235.6 169.8h0M242.7 171.9h0M233.5 173.4h0M239.6 173.3h0M238.7 175.1h0M235.8 176.8h0M229.3 180.0h0M238.1 178.8h0M239.7 177.5h0M246.0 168.2h0M248.2 163.8h0"/>
<path stroke="#d04545" d="M280.4 118.2h0M288.6 118.1h0M290.2 118.0h0M294.6 118.0h0M298.6 117.9h0M322.2 118.1h0M334.6 118.3h0M346.4 118.1h0M283.0 119.5h0M285.0 119.6h0M288.0 119.8h0M291.0 119.7h0M299.9 118.3h0M302.9 118.2h0M305.9 118.1h0M312.8 118.2h0M329.8 118.3h0M331.1 118.2h0M332.9 118.3h0M345.1 118.3h0M345.9 118.3h0M344.2 117.9h0M343.4 117.9h0M339.4 117.9h0M336.2 118.0h0M332.2 117.9h0M320.2 117.9h0M307.3 117.9h0M306.3 118.0h0M304.4 117.9h0M303.3 117.9h0M300.3 117.9h0M292.3 116.6h0M280.3 116.8h0M274.5 117.5h0M269.3 118.0h0M281.8 307.6h0M288.5 295.5h0"/>
<path stroke="#5c1974" d="M474.8 27.6h0M203.3 58.4h0M203.6 65.4h0M198.5 67.2h0M213.5 68.8h0M202.5 70.9h0M216.4 70.7h0M197.4 72.5h0M196.3 73.9h0M205.6 75.8h0M199.6 86.4h0M216.0 77.2h0M220.6 158.0h0M228.5 157.7h0M215.5 159.5h0M229.4 159.9h0M230.8 161.5h0M211.7 162.8h0M223.8 163.0h0M222.6 168.2h0M224.5 168.2h0M215.4 166.0h0M228.5 146.7h0M271.8 294.0h0M275.9 294.0h0M268.6 299.1h0M275.0 305.8h0M270.0 311.3h0M264.7 297.5h0M264.7 298.6h0M266.4 304.5h0"/>
<path stroke="#c83f4b" d="M342.7 72.3h0M351.7 72.4h0M358.5 73.3h0M386.9 73.6h0M274.4 118.1h0M278.4 117.9h0M268.3 117.9h0M271.0 118.2h0M278.9 119.2h0M280.0 119.3h0M281.0 119.3h0M282.0 119.5h0M289.1 119.6h0M289.5 116.4h0M288.3 116.3h0M278.3 116.9h0M270.5 117.9h0M281.6 290.3h0M279.8 294.0h0M285.8 293.8h0M268.9 295.8h0M287.9 300.8h0M279.0 313.2h0M274.0 314.9h0"/>
<path stroke="#e65d2f" d="M400.0 73.2h0M426.8 72.8h0M481.0 72.3h0M482.0 72.3h0M384.5 118.0h0M387.9 117.6h0M392.7 117.5h0M396.3 117.5h0M433.9 117.6h0M452.6 117.5h0M333.8 164.0h0M338.7 163.4h0M388.2 254.5h0M393.8 254.0h0M424.3 254.4h0M426.0 254.5h0M284.5 306.4h0"/>
<path stroke="#eb6628" d="M203.5 25.5h0M158.4 27.4h0M489.5 72.8h0M500.2 72.5h0M342.9 117.4h0M364.8 118.1h0M419.9 118.6h0M338.1 163.3h0M335.7 163.8h0M337.2 162.7h0M336.0 162.6h0M333.2 162.2h0M332.1 162.2h0M390.9 254.0h0M286.6 295.8h0"/>
<path stroke="#f18417" d="M159.6 26.9h0M408.9 117.6h0M411.0 117.4h0M326.0 163.3h0M316.9 165.0h0M313.4 167.6h0M330.0 161.6h0M279.9 311.7h0"/>
<path stroke="#ef6f21" d="M191.4 29.0h0M175.1 22.9h0M404.2 117.9h0M480.1 118.5h0M336.2 162.9h0M336.8 163.5h0M311.6 159.4h0"/>
<path stroke="#f19112" d="M194.7 27.1h0M413.0 118.7h0M313.2 161.3h0M323.2 165.0h0M305.9 160.6h0"/>
<path stroke="#f09c13" d="M195.6 35.9h0M184.6 37.5h0M309.9 163.2h0M305.7 165.5h0M320.6 159.6h0"/>
<path stroke="#f0791c" d="M205.8 28.6h0M465.7 73.0h0M330.2 162.9h0M334.8 163.7h0M338.1 162.8h0"/>
<path stroke="#ebb329" d="M400.2 254.4h0"/>
<path stroke="#521674" d="M196.4 56.8h0M194.6 60.1h0M196.2 60.1h0M193.5 61.8h0M188.6 63.6h0M192.5 63.7h0M194.5 63.9h0M185.3 65.7h0M187.4 65.3h0M189.2 65.5h0M191.6 65.6h0M188.4 67.0h0M183.5 69.1h0M185.2 69.1h0M191.3 68.8h0M178.4 70.7h0M180.2 70.7h0M190.6 70.9h0M191.5 72.3h0M193.4 72.2h0M188.4 74.2h0M192.2 74.3h0M189.2 75.8h0M191.6 76.0h0M193.4 75.9h0M184.6 77.7h0M186.6 77.5h0M196.3 77.8h0M183.5 79.5h0M190.2 84.6h0M195.6 89.9h0M170.7 73.3h0M171.7 73.4h0M174.5 73.9h0M181.1 78.1h0M182.7 79.6h0M184.0 80.8h0M184.6 81.7h0M192.4 88.2h0M196.7 90.4h0M198.4 90.2h0M189.9 58.3h0M188.5 59.5h0M187.0 60.8h0M186.1 61.5h0M182.7 65.1h0M177.6 70.1h0M174.4 71.8h0M227.6 109.0h0M232.9 114.4h0M227.8 149.4h0M226.4 154.4h0M221.8 156.0h0M225.5 156.1h0M227.8 156.0h0M218.6 157.8h0M222.4 157.7h0M219.5 159.8h0M223.4 159.5h0M227.7 159.6h0M222.7 161.4h0M215.7 163.3h0M217.5 163.0h0M227.4 162.9h0M228.5 164.6h0M219.8 166.4h0M220.4 168.5h0M227.4 169.9h0M220.5 171.6h0M228.4 171.7h0M221.8 173.7h0M231.6 173.5h0M224.7 175.5h0M226.8 178.5h0M210.9 163.7h0M212.1 164.1h0M222.2 175.9h0M222.9 177.0h0M225.1 179.1h0M230.1 179.5h0M225.8 145.9h0M222.2 149.3h0M220.9 150.9h0M217.6 155.9h0M236.8 194.3h0M239.5 199.3h0M235.2 200.8h0M238.5 203.7h0M237.6 205.1h0M226.7 208.3h0M232.1 208.5h0M241.5 208.5h0M229.8 209.8h0M231.3 210.2h0M233.0 209.8h0M235.2 209.8h0M240.3 210.1h0M242.0 209.9h0M228.8 211.3h0M232.4 211.6h0M237.9 211.5h0M235.1 213.3h0M238.8 213.1h0M240.5 213.1h0M235.2 216.1h0M240.6 216.0h0M237.7 217.9h0M238.4 219.4h0M237.6 191.1h0M221.1 209.5h0M222.0 209.7h0M223.0 209.8h0M224.5 211.0h0M226.3 211.9h0M230.4 211.9h0M232.2 211.7h0M233.5 213.0h0M234.5 218.0h0M236.0 223.7h0M236.9 225.4h0M239.8 219.8h0M241.4 213.0h0M242.1 212.0h0M243.4 210.4h0M245.6 207.8h0M242.5 203.9h0M242.0 202.1h0M237.8 191.8h0M236.4 193.6h0M235.9 195.5h0M235.4 197.6h0M235.1 199.6h0M234.2 202.3h0M233.8 203.3h0M232.4 205.7h0M230.4 205.7h0M228.4 205.6h0M226.4 205.8h0M233.0 239.0h0M232.1 240.6h0M237.9 247.3h0M239.9 247.4h0M229.1 248.8h0M228.3 250.5h0M230.1 250.6h0M227.6 252.3h0M229.2 252.3h0M222.6 253.8h0M226.4 253.9h0M230.4 253.7h0M229.3 255.5h0M235.0 258.7h0M230.4 260.5h0M231.1 265.0h0M234.9 265.3h0M232.1 266.8h0M234.9 268.7h0M221.4 254.0h0M226.2 255.1h0M227.9 257.2h0M233.5 271.2h0M239.1 267.4h0M242.0 251.0h0M240.6 246.2h0M232.7 238.0h0M231.0 242.5h0M230.3 244.5h0M230.0 245.6h0M229.9 246.4h0M227.8 250.9h0M224.7 253.7h0M223.8 286.9h0M225.4 287.0h0M222.4 288.6h0M226.6 288.6h0M219.4 290.4h0M221.5 290.4h0M226.6 292.1h0M217.7 293.8h0M219.4 293.8h0M223.6 294.1h0M214.8 295.5h0M224.7 295.5h0M213.5 297.2h0M219.7 297.4h0M227.4 297.3h0M223.4 301.0h0M225.6 300.7h0M227.6 300.8h0M222.5 302.5h0M224.8 302.4h0M215.6 304.1h0M217.7 304.2h0M219.5 304.5h0M221.4 304.2h0M223.8 304.3h0M225.6 304.0h0M227.8 304.3h0M216.8 305.8h0M220.7 305.8h0M217.4 307.7h0M219.4 308.0h0M221.5 307.9h0M225.5 307.9h0M220.5 309.3h0M224.8 309.5h0M220.5 313.1h0M222.4 313.0h0M212.9 300.7h0M216.7 306.5h0M218.2 309.3h0M219.4 311.9h0M220.3 313.6h0M224.2 313.2h0M226.0 309.7h0M227.5 306.9h0M229.3 303.5h0M232.5 299.9h0M230.8 295.9h0M230.1 295.1h0M229.1 293.4h0M228.7 292.6h0M227.4 289.8h0M226.0 287.1h0M225.4 286.3h0M224.8 285.6h0M223.8 283.8h0M223.0 283.3h0M221.2 283.5h0M219.7 285.0h0M219.0 286.8h0M216.3 292.3h0M213.3 297.2h0M245.1 340.1h0M246.7 339.9h0M240.8 341.7h0M246.1 341.7h0M241.6 343.0h0M248.7 342.8h0M242.6 344.5h0M244.1 344.6h0M240.0 346.1h0M248.8 345.7h0M242.7 347.2h0M244.5 347.6h0M247.5 347.1h0M243.4 348.9h0M246.8 348.8h0M242.8 350.1h0M246.2 350.4h0M241.9 351.7h0M243.3 351.6h0M245.4 351.6h0M242.5 353.1h0M245.2 354.7h0M244.1 356.0h0M243.6 327.8h0M243.6 328.5h0M243.4 362.1h0M239.2 343.5h0M240.7 348.1h0M241.8 353.2h0M242.4 356.0h0M242.6 357.0h0M242.7 358.1h0M243.1 359.9h0M244.8 357.3h0M246.8 352.6h0M247.4 350.5h0M248.0 348.6h0M249.4 346.9h0M250.2 344.5h0M249.1 341.8h0M248.5 340.9h0M247.9 339.1h0M246.0 335.3h0M245.5 334.5h0M245.1 333.4h0M244.4 331.5h0M244.1 330.5h0M243.8 329.6h0M242.8 332.1h0M242.0 335.1h0M240.3 341.7h0M239.8 342.7h0M245.6 379.6h0M248.9 379.5h0M246.5 380.9h0M247.1 382.5h0M244.0 385.4h0M248.9 385.5h0M248.7 388.5h0M244.6 389.6h0M248.1 389.9h0M247.4 391.3h0M244.4 392.5h0M249.5 392.9h0M248.6 394.3h0M244.7 395.8h0M248.1 395.9h0M239.4 389.5h0M240.8 390.3h0M244.4 398.1h0M244.9 401.0h0M245.1 403.0h0M246.2 406.0h0M247.3 405.4h0M248.4 402.6h0M249.1 399.8h0M249.7 396.8h0M250.0 393.7h0M252.7 388.9h0M249.9 383.9h0M249.4 381.8h0M249.2 380.9h0M249.0 380.0h0M248.9 378.9h0M248.7 378.1h0M248.3 376.9h0M247.6 375.2h0M247.1 374.3h0M245.0 376.8h0M244.5 379.8h0M243.9 382.6h0M243.5 385.7h0M243.4 386.8h0M242.1 388.2h0M241.4 389.0h0M277.2 431.7h0M272.4 433.2h0M274.6 433.4h0M282.2 433.4h0M284.4 433.3h0M273.6 435.0h0M277.2 435.0h0M279.5 435.3h0M281.5 435.2h0M283.5 435.0h0M287.3 435.1h0M299.6 435.2h0M274.3 436.9h0M276.5 436.9h0M269.5 435.4h0M270.6 435.6h0M271.5 436.2h0M275.0 437.8h0M276.1 438.0h0M278.1 438.3h0M286.0 436.8h0M288.9 436.2h0M289.9 436.1h0M299.5 434.8h0M298.5 434.7h0M292.5 434.7h0M288.7 433.7h0M286.9 433.2h0M284.7 432.8h0M283.7 432.5h0M277.0 431.6h0M271.1 433.6h0"/>
<path stroke="#e8bf38" d="M303.9 209.0h0M310.0 208.8h0M327.9 208.6h0M339.8 208.8h0M349.9 208.9h0M359.7 208.6h0M361.6 208.9h0M365.7 208.7h0M370.0 208.9h0M297.9 208.6h0M299.4 208.8h0M303.5 209.1h0M321.2 210.4h0M324.4 210.0h0M325.5 209.9h0M327.2 209.6h0M328.3 209.5h0M331.2 209.2h0M332.4 209.4h0M337.4 209.1h0M340.3 209.1h0M343.4 209.2h0M344.5 209.1h0M348.5 209.1h0M351.5 209.0h0M352.4 209.1h0M353.5 208.9h0M356.3 209.0h0M360.4 209.0h0M362.3 209.1h0M365.6 209.0h0M368.3 209.1h0M370.4 209.0h0M366.9 208.5h0M364.9 208.4h0M362.0 208.4h0M360.7 208.3h0M359.8 208.3h0M357.9 208.4h0M357.0 208.5h0M354.7 208.5h0M339.8 208.2h0M334.7 208.2h0M332.6 208.2h0M331.9 208.0h0M323.8 207.3h0M313.0 207.7h0M306.9 208.1h0M305.7 208.2h0M304.8 208.2h0M303.8 208.5h0M302.8 208.5h0M299.8 208.5h0M320.9 344.4h0M321.5 344.6h0M322.8 344.4h0M321.8 344.3h0M320.0 344.3h0M349.5 344.2h0M353.5 344.5h0M357.3 344.5h0M359.3 344.3h0M361.5 344.5h0M369.5 344.4h0M375.4 344.6h0M379.3 344.5h0M330.0 344.5h0M332.3 344.7h0M340.3 344.8h0M344.3 344.7h0M345.1 344.7h0M346.3 344.7h0M347.0 344.8h0M352.2 344.7h0M353.3 344.8h0M355.3 344.9h0M359.1 344.8h0M361.2 344.7h0M365.2 344.6h0M366.3 344.7h0M369.1 344.8h0M370.2 344.6h0M379.1 344.5h0M374.4 344.1h0M372.4 344.4h0M368.5 344.1h0M362.6 344.2h0M361.6 344.1h0M360.4 344.3h0M359.4 344.1h0M358.5 344.2h0M357.5 344.2h0M355.5 344.1h0M352.4 344.2h0M341.6 344.3h0M333.6 344.4h0M328.6 344.3h0M387.8 345.1h0M290.3 389.6h0M294.6 389.7h0M286.3 389.5h0M295.0 391.5h0M299.9 391.1h0M302.0 390.8h0M307.1 390.4h0M308.0 390.2h0M314.1 389.8h0M313.6 389.5h0M312.7 389.7h0M308.7 389.5h0M305.4 389.3h0M304.5 389.2h0M303.4 388.9h0M301.4 388.9h0M300.6 388.8h0M298.5 388.7h0M248.8 420.5h0M248.0 424.5h0M245.2 426.3h0M244.3 427.5h0M243.4 429.2h0M246.9 429.1h0M244.3 430.7h0M246.2 430.8h0M249.6 430.8h0M241.0 433.7h0M245.9 433.5h0M249.6 433.8h0M251.2 433.5h0M245.1 434.8h0M242.7 436.6h0M241.7 438.2h0M243.6 437.9h0M242.7 439.3h0M249.6 439.2h0M245.5 441.0h0M246.8 440.8h0M246.4 442.6h0M247.7 445.1h0M248.9 447.0h0M249.4 448.3h0M235.2 434.8h0M237.2 436.2h0M241.1 439.1h0M241.7 440.1h0M242.3 441.0h0M244.7 445.5h0M249.4 450.0h0M250.0 448.1h0M250.9 443.1h0M251.6 435.9h0M251.6 432.8h0M251.2 430.0h0M251.1 428.8h0M251.2 428.0h0M250.5 424.9h0M249.7 422.0h0M249.3 420.0h0M247.3 418.7h0M245.2 423.5h0M243.7 427.2h0M242.9 428.8h0M242.5 429.8h0M241.1 431.3h0M240.3 432.2h0M238.9 433.4h0M238.1 434.0h0M237.0 434.1h0M236.0 434.4h0"/>
<path stroke="#e05536" d="M191.6 11.5h0M194.4 13.5h0M187.7 15.0h0M190.4 16.8h0M194.8 16.5h0M187.5 18.7h0M191.4 18.6h0M197.4 18.4h0M192.5 20.0h0M194.6 20.0h0M181.7 22.1h0M183.8 22.1h0M187.5 22.0h0M195.7 21.8h0M197.5 21.7h0M201.5 21.9h0M176.7 23.7h0M190.5 23.7h0M198.4 23.7h0M200.8 23.8h0M167.8 25.2h0M171.5 25.5h0M185.8 25.3h0M195.6 25.4h0M197.5 25.5h0M164.4 27.1h0M166.4 27.0h0M172.8 26.9h0M174.7 26.9h0M204.6 27.3h0M210.8 27.1h0M177.6 29.0h0M181.6 28.8h0M183.8 28.7h0M185.4 28.8h0M197.7 28.6h0M199.5 28.7h0M174.8 30.6h0M178.8 30.5h0M186.8 30.5h0M195.7 32.2h0M199.5 32.5h0M180.7 34.2h0M182.8 34.2h0M186.7 33.8h0M192.8 34.1h0M194.7 34.1h0M196.5 34.3h0M187.5 35.6h0M189.8 35.8h0M192.5 37.2h0M194.4 37.3h0M192.6 40.8h0M189.6 42.8h0M155.2 27.3h0M160.2 27.3h0M161.2 27.4h0M164.4 27.7h0M166.1 28.2h0M167.3 28.6h0M170.7 30.0h0M173.8 30.9h0M175.6 31.5h0M183.5 37.9h0M185.4 40.0h0M186.0 40.8h0M186.7 41.7h0M187.4 42.2h0M194.4 41.1h0M197.2 36.8h0M201.1 32.2h0M201.8 31.6h0M212.7 27.3h0M210.7 26.9h0M209.8 26.8h0M208.5 26.7h0M207.8 26.3h0M206.7 25.9h0M206.1 25.6h0M203.4 23.8h0M201.4 21.5h0M199.8 19.1h0M196.4 15.2h0M196.0 14.5h0M194.5 12.9h0M193.7 12.2h0M193.3 11.6h0M190.4 10.9h0M189.7 11.4h0M188.8 11.9h0M184.1 17.0h0M183.6 17.7h0M180.7 20.4h0M168.5 25.1h0M165.5 26.0h0M161.7 26.8h0M156.7 27.1h0M155.7 26.9h0M406.7 73.3h0M422.9 73.0h0M438.9 73.4h0M448.8 72.4h0M457.3 72.2h0M487.4 72.2h0M491.0 72.3h0M344.5 118.2h0M290.1 119.6h0M305.0 118.2h0M311.9 118.2h0M320.9 118.2h0M324.1 118.2h0M339.0 118.3h0M342.3 117.8h0M355.2 117.6h0M390.2 117.7h0M305.2 161.2h0M325.2 161.2h0M302.3 163.1h0M312.2 162.8h0M325.1 165.1h0M310.0 166.6h0M322.1 166.7h0M306.6 165.6h0M309.5 166.4h0M323.2 166.7h0M319.4 159.2h0M317.7 158.7h0M303.0 161.5h0M301.9 161.9h0"/>
<path stroke="#661b73" d="M197.4 58.8h0M209.6 65.6h0M182.2 67.4h0M186.6 67.5h0M209.6 69.0h0M199.3 72.6h0M202.3 74.3h0M199.3 76.1h0M182.4 77.6h0M202.6 77.4h0M195.3 82.9h0M207.2 82.9h0M193.4 86.4h0M180.4 77.4h0M188.4 85.1h0M193.0 88.7h0M206.4 84.1h0M208.9 61.6h0M198.4 56.0h0M179.7 67.9h0M179.1 68.6h0M224.8 110.7h0M219.7 112.4h0M222.6 117.6h0M227.9 123.0h0M219.8 126.3h0M222.8 133.5h0M231.6 112.9h0M229.3 109.7h0M223.3 100.9h0M221.6 102.2h0M216.0 115.0h0M237.6 149.5h0M234.6 151.1h0M245.4 159.8h0M216.8 161.4h0M224.6 161.2h0M213.7 163.2h0M245.8 162.9h0M242.7 168.4h0M243.5 169.8h0M227.5 173.5h0M226.7 175.2h0M216.5 167.7h0M220.0 172.7h0M242.0 151.6h0M230.5 147.0h0M238.0 237.5h0M234.8 238.9h0M233.2 245.6h0M237.6 250.5h0M240.5 252.1h0M234.2 253.5h0M235.7 253.6h0M237.8 253.7h0M242.7 255.6h0M238.7 258.9h0M239.6 260.2h0M238.6 261.9h0M234.4 271.3h0M238.9 268.3h0M239.6 265.4h0M239.9 263.3h0M239.9 242.3h0M239.0 238.3h0M237.0 236.8h0M271.9 283.7h0M269.8 287.0h0M273.0 288.9h0M271.9 290.3h0M272.7 292.0h0M278.8 292.3h0M280.8 292.3h0M277.7 293.8h0M292.7 299.1h0M266.6 302.5h0M268.6 302.4h0M272.6 306.1h0M280.8 306.1h0M277.8 307.8h0M277.6 311.0h0M268.6 309.8h0M281.2 310.1h0M289.2 301.6h0M278.0 284.8h0M276.0 282.5h0M273.0 282.3h0M266.6 291.9h0"/>
<path stroke="#b73557" d="M364.3 25.8h0M366.3 25.6h0M370.7 25.9h0M376.4 25.8h0M345.7 27.4h0M353.3 27.4h0M375.6 27.7h0M387.6 27.4h0M399.7 27.5h0M411.4 27.4h0M413.6 27.7h0M342.3 27.6h0M350.9 28.5h0M352.1 28.8h0M358.0 29.1h0M363.0 29.4h0M381.2 29.2h0M385.2 28.6h0M395.0 27.8h0M400.9 27.8h0M408.9 27.7h0M406.3 27.4h0M405.2 27.2h0M401.3 27.2h0M399.4 27.3h0M395.2 27.2h0M389.2 27.3h0M383.3 26.2h0M378.5 25.7h0M369.3 25.6h0M358.3 25.9h0M348.4 26.8h0M347.4 27.2h0M342.6 27.3h0M302.5 70.5h0M299.5 72.3h0M309.6 72.4h0M304.8 74.0h0M308.6 74.4h0M293.8 75.9h0M290.6 77.8h0M291.5 77.7h0M296.4 76.6h0M297.5 76.3h0M305.3 74.9h0M310.4 74.7h0M313.0 73.1h0M322.0 72.0h0M327.6 73.4h0M241.6 115.8h0M249.7 116.0h0M242.5 117.9h0M244.8 117.8h0M235.9 119.7h0M241.6 119.4h0M253.8 119.4h0M236.8 119.7h0M238.7 119.6h0M242.6 120.1h0M244.8 120.3h0M253.6 119.8h0M255.4 119.0h0M257.9 117.7h0M256.0 117.0h0M254.9 116.6h0M252.3 115.6h0M243.2 115.5h0M234.5 115.6h0M285.0 159.6h0M280.2 161.6h0M289.1 166.8h0M280.4 166.0h0M281.4 166.3h0M283.4 166.7h0M287.4 167.1h0M286.8 159.3h0M283.8 159.7h0M280.6 160.4h0M277.9 161.4h0M369.7 254.2h0M274.0 282.1h0"/>
<path stroke="#711e71" d="M197.2 62.0h0M205.3 62.0h0M212.3 67.1h0M216.3 67.3h0M205.2 68.7h0M215.3 69.1h0M204.6 70.9h0M218.2 70.6h0M201.2 72.7h0M217.6 72.5h0M206.2 74.2h0M208.4 74.1h0M198.4 77.7h0M200.5 77.5h0M204.4 77.6h0M208.3 77.4h0M214.6 77.4h0M203.5 79.2h0M202.6 80.9h0M197.5 82.7h0M199.3 82.9h0M203.3 82.9h0M198.3 84.4h0M201.5 86.2h0M200.3 87.9h0M200.1 89.2h0M207.7 82.8h0M208.5 82.0h0M212.0 80.1h0M213.5 79.0h0M215.2 77.7h0M216.8 76.3h0M219.2 74.5h0M218.9 69.7h0M218.5 68.8h0M214.9 65.6h0M210.5 62.9h0M207.4 60.5h0M201.1 56.9h0M226.7 128.4h0M221.7 130.0h0M218.6 124.6h0M219.3 126.3h0M228.9 108.8h0M226.4 104.1h0M236.9 239.0h0M234.8 248.7h0M236.8 255.3h0M238.9 255.5h0M241.0 247.1h0M268.8 288.7h0M270.7 295.5h0M265.7 297.6h0M268.0 297.2h0M275.0 299.0h0M265.7 301.0h0M271.0 305.8h0M273.0 313.0h0M268.2 287.1h0M267.5 289.2h0M265.6 294.8h0"/>
<path stroke="#ae305c" d="M372.3 25.9h0M389.5 27.4h0M403.7 27.5h0M409.6 27.5h0M364.3 29.4h0M337.3 27.7h0M338.2 27.6h0M339.2 27.7h0M340.2 27.6h0M354.9 28.9h0M361.0 29.4h0M388.1 27.8h0M411.1 27.6h0M400.4 27.2h0M397.2 27.1h0M387.2 27.2h0M382.3 26.0h0M371.5 25.6h0M360.5 25.7h0M345.4 27.3h0M422.3 28.1h0M426.1 28.1h0M225.6 109.1h0M254.5 117.7h0M243.9 119.3h0M245.7 119.5h0M215.3 119.4h0M224.0 134.2h0M243.9 120.4h0M230.9 112.2h0M287.2 159.6h0M284.1 161.2h0M289.9 161.2h0M294.2 161.4h0M280.9 163.3h0M284.9 162.9h0M287.2 162.9h0M289.2 162.9h0M290.8 163.3h0M297.2 163.2h0M278.2 164.9h0M282.1 164.7h0M275.1 163.5h0M279.4 165.8h0M286.3 167.1h0M289.4 166.8h0M292.4 166.0h0M296.7 163.6h0M294.4 161.5h0M293.6 161.2h0M290.9 160.0h0M284.8 159.5h0M279.7 160.5h0M286.2 304.1h0"/>
<path stroke="#85236d" d="M520.4 27.8h0M238.3 69.0h0M235.6 71.0h0M234.6 73.0h0M226.4 76.2h0M229.5 78.0h0M231.4 77.9h0M235.6 78.0h0M232.2 79.6h0M224.4 71.7h0M226.1 78.3h0M229.3 80.6h0M236.5 79.1h0M237.2 78.5h0M238.2 76.8h0M239.0 70.9h0M227.9 65.5h0M224.7 70.5h0M241.0 76.0h0M230.6 117.7h0M218.9 125.4h0M215.4 115.8h0M236.6 151.1h0M238.6 154.4h0M234.7 157.8h0M233.5 163.0h0M230.7 164.7h0M240.6 164.6h0M246.5 164.7h0M236.7 171.7h0M244.8 155.7h0M243.0 153.4h0M248.3 248.9h0M248.2 252.3h0M252.8 253.7h0M245.3 257.1h0M248.5 258.7h0M250.2 258.9h0M249.3 260.3h0M245.4 257.2h0M252.9 255.8h0M253.7 255.0h0M253.4 252.6h0M250.4 248.6h0M246.1 250.4h0M243.6 251.9h0M277.9 290.6h0M287.6 297.5h0M279.9 300.6h0M289.6 300.7h0M278.6 313.4h0M280.5 311.0h0M287.1 294.0h0"/>
<path stroke="#a52c60" d="M367.5 27.5h0M371.4 27.4h0M336.1 27.6h0M353.0 28.9h0M393.1 27.9h0M413.2 27.2h0M409.2 27.4h0M407.4 27.5h0M390.4 27.2h0M379.4 25.8h0M377.3 25.8h0M343.7 27.2h0M337.6 27.4h0M275.6 68.9h0M277.4 68.9h0M271.8 72.2h0M273.4 72.7h0M281.8 72.6h0M289.8 72.4h0M286.4 74.2h0M275.7 75.7h0M270.2 73.9h0M275.7 76.6h0M293.5 77.2h0M278.8 67.6h0M224.5 104.1h0M222.7 107.6h0M229.9 112.5h0M222.5 114.3h0M227.8 115.9h0M229.5 119.3h0M220.8 124.7h0M273.0 253.9h0M292.7 253.7h0M271.6 254.0h0M279.5 254.5h0M280.7 254.6h0M296.5 255.3h0M298.7 254.8h0M301.6 254.4h0M299.8 253.3h0M294.9 252.5h0M289.9 252.5h0M282.0 253.3h0M279.8 253.3h0M277.7 297.3h0M284.6 302.4h0M281.7 304.1h0M281.9 309.4h0"/>
<path stroke="#7b216f" d="M568.5 27.6h0M222.3 73.4h0M228.6 65.9h0M234.6 65.7h0M227.3 67.4h0M235.4 74.2h0M231.0 81.3h0M234.1 80.9h0M237.6 67.4h0M227.7 112.7h0M221.6 126.5h0M218.3 123.4h0M230.0 124.1h0M219.2 109.0h0M227.4 152.6h0M235.4 152.7h0M229.4 156.4h0M241.6 156.0h0M238.6 158.0h0M242.5 158.0h0M233.5 159.6h0M232.6 164.9h0M233.4 166.7h0M244.6 168.2h0M240.4 171.7h0M232.8 175.3h0M237.4 176.9h0M236.4 178.6h0M241.8 174.0h0M241.2 150.9h0M236.3 147.2h0M235.5 146.9h0M267.0 292.3h0M266.9 299.3h0M278.7 299.1h0M269.9 304.3h0M278.7 306.0h0M274.6 309.2h0M275.9 314.7h0M264.7 299.7h0M268.2 309.1h0M273.0 315.5h0M277.9 314.0h0M292.0 297.8h0M289.3 296.1h0M280.7 287.8h0M265.2 295.7h0"/>
<path stroke="#9b2965" d="M282.5 67.0h0M291.4 69.0h0M278.7 70.5h0M282.7 70.6h0M286.6 70.5h0M292.6 70.9h0M285.6 72.5h0M274.5 74.0h0M276.5 74.0h0M280.8 74.0h0M283.7 76.1h0M285.8 76.1h0M286.4 77.5h0M269.4 73.6h0M271.1 74.2h0M272.8 75.2h0M273.8 75.9h0M277.7 77.2h0M284.5 78.5h0M287.8 67.2h0M286.8 67.0h0M284.9 67.0h0M280.8 67.2h0M277.8 68.0h0M277.0 68.3h0M273.9 69.2h0M268.6 71.8h0M222.7 111.0h0M222.5 124.9h0M224.8 133.7h0M303.1 254.1h0M274.5 254.1h0M275.5 254.2h0M278.5 254.6h0M294.5 255.4h0M295.6 255.5h0M302.9 253.4h0M297.8 252.8h0M297.0 252.6h0M286.0 252.7h0M285.1 253.1h0M277.0 253.4h0M275.9 253.3h0"/>
<path stroke="#d94d3d" d="M292.4 118.1h0M304.3 117.9h0M312.2 118.3h0M314.3 118.2h0M316.5 118.1h0M328.6 118.1h0M300.9 118.3h0M304.0 118.1h0M317.1 118.2h0M319.0 118.3h0M340.4 117.8h0M326.2 118.0h0M311.4 118.0h0M371.5 117.9h0M374.5 118.5h0M381.1 117.6h0M320.2 159.6h0M315.3 161.6h0M320.2 163.3h0M322.1 163.0h0M313.3 164.8h0M314.0 166.3h0M304.7 165.3h0M311.4 167.0h0M315.4 168.1h0M319.2 167.7h0M328.3 161.4h0M327.1 161.2h0M321.3 159.7h0M314.6 158.8h0M306.8 160.4h0M378.5 254.5h0M418.7 254.0h0M442.8 254.5h0M283.6 307.2h0M295.5 299.0h0M282.7 289.9h0"/>
<path stroke="#8f2669" d="M532.0 27.8h0M602.1 27.3h0M222.7 104.0h0M221.7 116.3h0M223.5 116.3h0M230.7 121.1h0M223.8 123.0h0M227.8 128.5h0M227.1 105.0h0M218.2 111.8h0M232.4 151.2h0M240.5 154.3h0M231.6 156.2h0M241.5 159.5h0M242.6 161.3h0M244.6 161.3h0M241.5 163.2h0M243.8 166.4h0M231.6 170.1h0M238.5 171.9h0M231.7 177.2h0M233.8 177.1h0M234.7 178.5h0M235.2 179.3h0M242.4 173.2h0M248.4 162.8h0M247.9 161.9h0M243.5 154.1h0M231.4 147.0h0"/>
<path stroke="#5c1974" d="M563.3 27.3h0M200.3 57.0h0M197.2 65.4h0M213.4 65.4h0M207.2 75.9h0M219.0 73.6h0M224.7 147.4h0M228.4 147.6h0M219.4 156.1h0M224.5 157.7h0M221.5 159.8h0M214.6 161.5h0M218.6 161.3h0M226.8 161.4h0M227.4 166.3h0M222.9 148.5h0M221.5 150.3h0M218.3 155.3h0M212.5 162.0h0M275.9 286.9h0M270.7 288.6h0M274.8 292.4h0M267.6 304.2h0M268.7 306.2h0M267.9 307.8h0M270.7 283.9h0"/>
<path stroke="#c03a51" d="M296.6 70.9h0M300.4 74.2h0M302.8 74.0h0M310.7 70.4h0M363.6 72.3h0M368.1 72.9h0M370.8 72.3h0M379.6 73.1h0M256.7 117.7h0M247.9 119.5h0M241.8 119.9h0M246.7 120.8h0M240.1 116.0h0M284.2 118.2h0M272.0 118.2h0M277.1 118.9h0M282.2 116.6h0M355.3 253.4h0M363.3 253.3h0M365.5 254.1h0M386.6 254.1h0"/>
<path stroke="#c83f4b" d="M361.2 73.4h0M377.8 73.5h0M282.5 118.1h0M286.3 118.1h0M269.0 118.4h0M273.2 118.4h0M275.1 118.6h0M276.0 119.0h0M285.9 119.7h0M283.2 116.5h0M277.4 117.1h0M275.4 117.5h0M272.4 117.9h0M399.4 253.3h0M272.6 299.1h0M283.0 302.8h0M292.8 299.4h0M292.8 298.2h0"/>
<path stroke="#d04545" d="M336.6 117.9h0M338.5 118.0h0M270.1 118.2h0M307.9 118.3h0M327.0 118.2h0M328.9 118.1h0M342.9 118.2h0M346.4 118.0h0M329.3 117.8h0M324.2 117.8h0M321.2 118.0h0M318.3 118.1h0M295.3 117.0h0M294.4 116.9h0M285.3 116.4h0"/>
<path stroke="#ef6f21" d="M185.5 35.7h0M542.0 72.3h0M401.3 117.6h0M318.3 159.4h0M339.6 163.2h0M339.0 162.9h0M331.0 161.8h0"/>
<path stroke="#f19112" d="M509.0 72.7h0M511.5 72.8h0M415.8 117.8h0M315.2 165.0h0M321.2 164.9h0M328.0 165.5h0M335.1 162.7h0"/>
<path stroke="#e65d2f" d="M402.8 72.6h0M497.0 72.3h0M505.0 72.8h0M521.9 73.2h0M407.2 117.5h0M427.5 254.1h0"/>
<path stroke="#f09c13" d="M185.6 21.7h0M178.4 23.4h0M332.1 163.1h0M325.0 166.0h0M337.8 163.6h0"/>
<path stroke="#f18417" d="M180.7 23.9h0M156.5 26.9h0M322.9 161.3h0M301.9 164.2h0M312.3 167.2h0"/>
<path stroke="#eb6628" d="M415.9 118.1h0M435.5 118.5h0M436.9 117.4h0M334.0 163.2h0"/>
<path stroke="#f0791c" d="M311.3 164.7h0M334.1 162.5h0"/>
<path stroke="#521674" d="M188.4 60.3h0M189.2 62.1h0M191.6 62.1h0M195.3 62.0h0M186.5 64.0h0M193.5 65.5h0M189.3 68.9h0M197.2 69.1h0M184.6 70.5h0M188.2 70.7h0M194.5 70.8h0M183.5 72.3h0M176.3 74.0h0M179.4 75.9h0M181.5 76.0h0M187.5 76.1h0M194.2 77.5h0M185.6 79.4h0M191.4 79.2h0M188.4 84.8h0M192.4 84.5h0M194.3 84.7h0M173.4 73.8h0M177.4 74.8h0M191.4 87.7h0M193.5 56.3h0M190.9 57.9h0M183.9 63.5h0M177.3 71.0h0M170.5 72.0h0M222.3 101.7h0M221.8 152.9h0M229.4 152.7h0M224.5 154.3h0M226.4 157.7h0M217.6 159.7h0M220.5 161.3h0M221.8 169.9h0M226.6 171.6h0M225.8 173.7h0M230.7 175.5h0M225.7 177.2h0M230.5 178.9h0M214.7 165.6h0M215.9 167.0h0M223.5 147.9h0M218.8 154.3h0M211.4 162.4h0M236.0 195.8h0M239.6 196.0h0M236.6 197.6h0M235.7 199.0h0M235.9 202.2h0M239.6 202.0h0M242.4 203.6h0M234.2 205.1h0M236.1 205.3h0M241.5 205.2h0M231.5 206.8h0M234.8 206.9h0M224.9 208.3h0M230.4 208.2h0M234.1 208.6h0M237.7 208.3h0M243.3 208.5h0M227.6 210.1h0M236.9 210.0h0M238.8 210.1h0M225.1 211.7h0M227.0 211.6h0M239.7 211.6h0M241.3 211.3h0M234.3 214.5h0M235.8 214.5h0M236.6 216.3h0M235.0 219.2h0M225.2 211.6h0M228.1 211.9h0M231.2 211.6h0M234.9 220.0h0M239.4 221.8h0M239.9 218.7h0M241.1 214.9h0M241.4 213.8h0M243.5 205.6h0M240.8 199.2h0M239.0 193.6h0M236.8 192.6h0M235.8 196.6h0M234.7 200.3h0M233.5 204.3h0M231.4 205.8h0M227.4 205.8h0M222.5 207.1h0M231.1 245.4h0M234.7 245.6h0M231.9 247.2h0M228.2 253.6h0M231.9 253.6h0M232.2 257.0h0M233.8 260.5h0M235.9 260.5h0M236.8 261.8h0M232.0 263.4h0M238.7 265.4h0M226.8 255.7h0M230.6 263.9h0M232.9 270.5h0M241.7 256.7h0M242.2 256.0h0M232.2 238.8h0M230.7 243.7h0M229.2 248.4h0M226.3 252.3h0M225.4 253.0h0M223.8 253.6h0M220.4 285.0h0M222.4 285.0h0M221.6 286.7h0M220.7 288.7h0M227.7 290.3h0M218.5 292.0h0M220.6 292.0h0M228.8 292.0h0M227.6 293.9h0M220.5 295.5h0M226.5 295.5h0M225.6 297.4h0M231.7 297.2h0M218.7 299.3h0M228.6 298.8h0M228.4 302.8h0M218.4 305.9h0M219.7 311.0h0M210.7 299.0h0M211.2 299.6h0M214.0 302.3h0M216.1 305.6h0M217.3 307.6h0M218.8 310.9h0M221.2 314.4h0M221.8 314.9h0M226.4 308.7h0M227.9 306.1h0M233.1 299.0h0M220.3 284.3h0M213.7 296.4h0M211.5 298.5h0M246.0 338.4h0M243.5 339.9h0M239.8 342.8h0M244.9 342.9h0M245.9 344.5h0M247.0 351.5h0M244.5 353.3h0M243.3 354.8h0M243.4 361.4h0M239.5 346.5h0M241.1 350.1h0M241.5 350.9h0M241.5 352.2h0M242.9 359.1h0M244.0 359.0h0M245.9 354.3h0M250.4 345.3h0M249.6 342.8h0M248.0 340.0h0M242.9 331.0h0M242.3 333.0h0M242.3 334.0h0M240.5 340.8h0M246.5 374.9h0M247.3 376.7h0M246.1 378.2h0M249.6 384.0h0M250.7 388.3h0M241.2 389.9h0M242.9 389.8h0M249.5 389.9h0M251.6 389.7h0M243.7 391.4h0M245.6 391.2h0M248.7 391.2h0M245.6 394.3h0M246.4 395.6h0M248.0 398.8h0M246.1 404.2h0M246.6 372.3h0M243.5 392.2h0M245.0 402.1h0M245.6 405.1h0M248.5 401.6h0M248.8 400.7h0M249.8 394.9h0M250.5 392.8h0M251.1 392.0h0M253.5 390.2h0M253.5 389.4h0M250.1 384.9h0M249.6 382.8h0M244.3 380.6h0M240.5 389.4h0M276.3 433.6h0M275.4 434.9h0M278.3 436.8h0M282.2 436.6h0M284.6 436.7h0M272.3 436.6h0M277.0 438.1h0M280.0 438.0h0M284.0 437.4h0M286.9 436.6h0M292.7 435.6h0M298.8 435.3h0M299.9 435.2h0M293.6 434.8h0M285.9 433.0h0M279.8 431.7h0M274.9 431.8h0M270.2 434.1h0"/>
<path stroke="#e8bf38" d="M311.6 208.6h0M323.6 208.9h0M325.8 208.5h0M332.0 208.8h0M335.9 208.6h0M346.0 208.6h0M347.8 208.6h0M351.7 208.7h0M353.8 208.9h0M363.7 208.8h0M368.0 208.9h0M301.4 208.9h0M304.3 209.3h0M306.5 209.4h0M313.5 209.9h0M318.4 210.4h0M319.2 210.5h0M320.5 210.7h0M330.2 209.4h0M336.3 209.3h0M338.3 209.2h0M342.4 209.1h0M355.5 209.0h0M357.5 208.9h0M358.4 208.9h0M361.4 209.1h0M367.6 209.0h0M369.5 209.0h0M369.8 208.5h0M367.8 208.6h0M358.8 208.5h0M352.8 208.5h0M350.9 208.4h0M347.8 208.5h0M346.7 208.2h0M343.7 208.5h0M341.7 208.4h0M340.8 208.4h0M338.8 208.2h0M336.8 208.3h0M325.7 207.7h0M322.8 207.1h0M318.8 206.9h0M316.7 207.2h0M320.6 344.7h0M322.6 344.6h0M337.7 344.7h0M345.7 344.3h0M363.5 344.5h0M348.2 344.8h0M349.2 344.6h0M354.0 344.6h0M358.2 344.9h0M367.1 344.6h0M371.3 344.6h0M372.2 344.7h0M373.1 344.6h0M375.3 344.6h0M376.3 344.5h0M378.6 344.4h0M366.5 344.3h0M365.4 344.3h0M354.6 344.3h0M347.5 344.1h0M344.7 344.1h0M343.5 344.3h0M339.6 344.1h0M338.5 344.2h0M335.4 344.2h0M334.4 344.3h0M331.4 344.3h0M292.4 389.6h0M296.6 389.9h0M300.5 389.7h0M306.2 389.6h0M310.2 389.9h0M312.4 389.8h0M286.7 390.0h0M290.0 390.4h0M291.8 390.8h0M292.9 390.9h0M300.9 390.7h0M303.9 390.6h0M306.0 390.4h0M316.1 389.9h0M311.7 389.4h0M297.4 388.6h0M291.3 388.9h0M289.3 389.4h0M287.3 389.6h0M247.9 419.1h0M247.1 423.5h0M248.6 423.1h0M247.2 426.5h0M249.5 427.8h0M248.8 429.4h0M241.7 432.1h0M240.1 434.8h0M247.1 435.2h0M250.5 435.2h0M239.5 436.6h0M247.8 436.3h0M251.4 436.3h0M246.9 438.2h0M245.5 443.9h0M247.2 444.1h0M248.6 443.7h0M249.6 445.6h0M245.1 446.7h0M246.8 446.9h0M242.7 441.7h0M244.9 446.2h0M248.4 451.6h0M250.3 445.9h0M251.2 441.1h0M250.1 423.0h0M249.7 421.2h0M246.6 419.5h0M241.7 430.5h0"/>
<path stroke="#e05536" d="M192.4 13.4h0M195.7 15.0h0M184.6 16.6h0M183.5 18.2h0M184.5 20.4h0M186.5 20.3h0M198.6 20.2h0M177.4 21.7h0M191.4 22.0h0M193.5 21.9h0M182.6 23.8h0M194.8 23.7h0M175.4 25.3h0M189.8 25.5h0M158.6 27.2h0M170.7 27.0h0M176.7 27.3h0M180.8 27.1h0M184.7 27.2h0M188.6 27.2h0M202.8 27.2h0M206.5 27.1h0M171.6 28.9h0M179.6 28.9h0M180.8 30.4h0M190.4 30.4h0M198.4 30.3h0M185.4 32.4h0M187.4 32.3h0M184.7 34.2h0M188.6 33.8h0M186.6 37.5h0M188.5 37.4h0M196.5 37.7h0M187.4 39.4h0M191.6 39.4h0M191.8 42.9h0M174.8 31.4h0M180.0 34.4h0M188.8 43.7h0M199.7 33.7h0M200.5 33.0h0M204.2 29.7h0M204.9 29.1h0M213.6 27.3h0M211.5 27.0h0M204.3 24.3h0M198.5 17.6h0M197.0 15.9h0M195.2 13.8h0M187.3 13.2h0M177.7 21.6h0M176.1 22.6h0M173.2 23.4h0M172.2 23.9h0M164.5 26.1h0M163.5 26.2h0M157.6 26.9h0M409.9 73.3h0M442.0 72.5h0M455.3 73.0h0M516.3 72.6h0M292.0 119.6h0M294.9 119.2h0M322.4 117.8h0M316.2 117.9h0M315.2 117.9h0M361.6 118.7h0M314.3 159.5h0M309.2 161.2h0M319.2 161.2h0M313.9 162.9h0M316.0 166.6h0M320.1 166.4h0M316.3 168.2h0M323.9 166.4h0M325.2 160.6h0M312.5 159.1h0M307.9 160.3h0M301.1 162.1h0M381.0 253.6h0"/>
<path stroke="#661b73" d="M549.6 27.5h0M581.7 27.7h0M192.4 60.4h0M195.2 65.6h0M196.2 67.2h0M181.4 69.0h0M213.6 72.5h0M178.4 74.3h0M201.6 76.0h0M215.5 76.0h0M175.6 74.0h0M201.9 88.2h0M219.1 70.5h0M215.8 65.9h0M175.3 71.4h0M171.4 72.1h0M216.8 114.1h0M223.5 129.8h0M221.2 130.9h0M228.2 107.9h0M220.9 104.1h0M229.7 149.1h0M234.6 154.3h0M237.7 156.1h0M216.6 164.8h0M239.5 166.4h0M226.4 168.4h0M229.4 170.1h0M237.8 173.7h0M241.8 173.2h0M224.4 178.7h0M212.9 164.5h0M225.7 179.7h0M238.8 178.1h0M244.2 154.9h0M232.6 147.0h0M236.0 240.5h0M239.7 244.1h0M236.8 245.6h0M236.7 252.0h0M233.9 256.8h0M237.7 256.8h0M237.0 258.7h0M237.0 268.8h0M238.8 268.6h0M239.8 264.6h0M240.7 259.6h0M240.2 243.1h0M239.4 239.2h0M238.5 237.3h0M237.9 236.6h0M234.1 236.6h0M274.8 285.5h0M267.7 290.3h0M270.6 299.3h0M276.8 298.9h0M269.6 307.6h0M275.9 307.5h0M279.8 307.5h0M271.6 311.0h0M275.8 311.3h0M269.2 310.6h0M271.1 313.2h0M276.5 315.4h0M286.7 303.2h0M276.6 283.3h0M272.1 282.6h0M269.8 284.5h0M269.4 285.5h0M266.2 292.8h0M265.0 296.8h0"/>
<path stroke="#b73557" d="M374.3 25.5h0M349.5 27.3h0M397.4 27.6h0M360.3 29.2h0M343.4 27.7h0M345.1 27.6h0M346.3 27.7h0M357.1 29.1h0M369.0 29.3h0M370.1 29.2h0M372.0 29.4h0M379.1 29.2h0M383.1 28.8h0M400.1 27.7h0M401.9 27.6h0M410.1 27.6h0M408.4 27.2h0M404.4 27.4h0M396.2 27.2h0M384.4 26.4h0M380.5 25.9h0M361.5 25.6h0M349.5 26.5h0M336.6 27.2h0M293.7 69.1h0M304.6 70.6h0M306.6 70.8h0M305.7 72.7h0M307.4 72.2h0M294.8 74.3h0M310.4 74.2h0M295.8 75.7h0M295.4 76.9h0M300.2 75.8h0M307.3 74.9h0M308.3 75.0h0M313.2 74.3h0M324.8 73.6h0M253.7 116.3h0M251.7 119.6h0M245.7 120.5h0M242.3 115.7h0M232.0 113.7h0M287.9 161.5h0M294.9 162.9h0M284.1 164.7h0M286.8 166.5h0M285.2 167.1h0M288.8 159.4h0M278.7 161.0h0"/>
<path stroke="#a52c60" d="M360.4 25.9h0M373.3 27.7h0M381.4 27.5h0M385.5 27.6h0M393.4 27.4h0M372.5 29.0h0M350.2 28.6h0M393.9 27.8h0M368.3 25.7h0M367.4 25.6h0M350.4 26.5h0M444.5 27.4h0M290.7 70.6h0M278.8 74.2h0M282.4 74.4h0M279.5 75.7h0M278.4 77.3h0M290.5 77.8h0M294.6 68.7h0M292.6 68.1h0M283.9 66.9h0M279.7 67.5h0M272.3 70.3h0M226.7 107.4h0M218.9 117.8h0M227.5 129.4h0M288.9 253.7h0M296.8 254.1h0M272.5 254.1h0M276.5 254.5h0M283.5 254.6h0M285.5 254.8h0M289.5 255.2h0M293.6 255.2h0M297.5 255.1h0M303.5 254.0h0M291.8 252.4h0M290.9 252.5h0M288.8 252.4h0M287.8 252.5h0M281.0 253.3h0M278.0 253.2h0M273.9 253.8h0M272.8 253.8h0M280.0 297.2h0M281.7 297.5h0M283.0 305.8h0M278.6 309.4h0M277.4 284.1h0"/>
<path stroke="#85236d" d="M490.3 27.7h0M558.9 27.8h0M235.4 67.7h0M228.2 72.7h0M238.4 72.6h0M225.2 74.4h0M228.2 76.4h0M238.6 76.2h0M233.5 78.1h0M230.5 79.5h0M224.7 75.5h0M238.4 69.1h0M235.2 65.3h0M234.3 64.8h0M233.3 64.4h0M225.4 68.8h0M225.0 69.5h0M242.3 73.0h0M240.9 70.0h0M223.5 102.4h0M221.7 105.4h0M221.4 131.8h0M236.6 164.8h0M242.8 164.8h0M237.4 166.5h0M240.5 175.2h0M239.6 177.1h0M243.3 171.6h0M247.0 166.5h0M247.2 250.4h0M251.2 250.3h0M246.5 252.3h0M247.1 254.0h0M249.2 253.8h0M248.5 245.2h0M247.1 259.7h0M247.7 260.5h0M250.0 260.0h0M250.5 259.3h0M252.4 256.8h0M253.8 254.3h0M247.0 248.5h0M277.7 300.8h0M277.9 304.3h0M284.1 291.4h0M279.2 286.4h0"/>
<path stroke="#7b216f" d="M522.4 27.6h0M524.7 27.4h0M551.6 27.4h0M561.2 27.6h0M223.2 68.6h0M221.0 73.9h0M229.2 71.2h0M231.2 71.1h0M237.6 71.1h0M226.4 72.9h0M227.2 74.5h0M234.6 76.0h0M227.5 79.8h0M239.3 72.8h0M236.9 66.4h0M215.6 115.8h0M231.9 116.1h0M225.6 123.1h0M220.9 128.3h0M234.7 120.4h0M236.7 147.3h0M232.4 158.0h0M239.4 159.8h0M232.5 161.5h0M238.6 164.6h0M245.8 166.3h0M235.6 173.5h0M243.0 172.3h0M247.0 160.2h0M240.4 150.0h0M272.0 286.9h0M275.6 297.2h0M281.7 300.9h0M271.7 307.9h0M275.0 313.0h0M265.9 303.5h0M270.5 312.4h0M280.1 287.0h0"/>
<path stroke="#711e71" d="M199.2 58.6h0M207.4 61.9h0M200.6 63.8h0M207.4 65.4h0M202.6 67.4h0M204.3 67.1h0M206.6 67.3h0M214.2 67.4h0M206.5 70.8h0M205.2 72.3h0M207.6 72.4h0M215.2 72.3h0M198.6 74.2h0M200.2 73.9h0M212.4 77.6h0M197.6 79.2h0M201.4 79.2h0M200.4 84.6h0M203.3 86.1h0M207.0 83.5h0M209.3 81.4h0M219.1 71.8h0M214.0 64.9h0M208.2 61.0h0M202.2 57.3h0M219.6 127.2h0M238.7 238.8h0M238.0 240.4h0M239.9 263.7h0M236.0 270.3h0M238.1 270.3h0M269.8 290.4h0M269.7 294.0h0M276.8 295.7h0M269.7 311.7h0M271.9 313.8h0"/>
<path stroke="#ae305c" d="M339.7 27.3h0M395.5 27.7h0M349.2 28.4h0M360.1 29.2h0M365.1 29.2h0M389.9 27.9h0M410.3 27.3h0M391.3 27.4h0M366.3 25.7h0M221.7 108.9h0M218.8 110.7h0M245.5 116.0h0M234.9 118.0h0M217.6 119.4h0M225.5 119.6h0M224.8 131.9h0M232.4 121.8h0M254.5 119.3h0M237.4 116.5h0M286.0 161.4h0M291.9 161.4h0M275.1 162.4h0M275.7 164.2h0M276.5 164.5h0M278.5 165.2h0M282.4 166.5h0M295.3 162.0h0"/>
<path stroke="#d04545" d="M296.5 118.1h0M324.5 117.9h0M296.8 118.7h0M302.0 118.4h0M322.9 118.2h0M334.9 118.3h0M337.0 118.3h0M341.4 118.0h0M338.2 118.0h0M325.4 117.8h0M323.1 117.9h0M312.2 118.1h0M310.3 118.0h0M305.2 118.0h0M299.2 117.8h0M297.3 117.4h0M290.4 116.6h0M279.4 116.8h0M276.4 117.2h0M281.8 293.9h0M294.8 298.8h0"/>
<path stroke="#d94d3d" d="M419.0 72.6h0M433.1 73.0h0M320.3 118.2h0M332.5 117.9h0M340.5 118.1h0M298.9 118.6h0M306.9 118.3h0M313.9 118.3h0M315.8 118.1h0M341.0 118.2h0M334.4 117.8h0M328.4 117.9h0M301.4 117.9h0M351.1 117.8h0M316.3 159.6h0M312.0 166.7h0M307.6 165.9h0M323.5 160.1h0M285.0 292.3h0"/>
<path stroke="#9b2965" d="M279.8 69.0h0M287.8 69.2h0M274.4 70.9h0M275.4 72.4h0M279.5 72.5h0M283.4 72.5h0M289.6 75.9h0M280.7 77.4h0M282.7 77.8h0M286.5 78.2h0M292.4 77.5h0M282.6 67.0h0M218.7 109.8h0M302.7 254.4h0M274.8 253.8h0"/>
<path stroke="#c03a51" d="M301.3 75.5h0M309.3 74.8h0M309.8 70.4h0M307.5 70.3h0M301.7 69.9h0M299.7 69.5h0M382.0 73.5h0M250.8 120.5h0M270.6 118.1h0M274.0 118.7h0M284.4 116.6h0M271.5 118.0h0M376.1 254.0h0M407.6 254.1h0"/>
<path stroke="#8f2669" d="M510.7 27.3h0M526.8 27.6h0M533.5 27.6h0M565.6 27.6h0M219.8 116.1h0M224.0 101.0h0M241.8 152.9h0M242.5 154.3h0M234.5 161.1h0M237.8 169.8h0M244.1 170.6h0M246.4 158.3h0M233.6 146.9h0"/>
<path stroke="#5c1974" d="M210.2 63.7h0M205.2 65.4h0M222.7 150.7h0M226.8 164.9h0M221.4 166.6h0M223.6 166.8h0M225.7 166.6h0M223.6 173.2h0M232.8 178.6h0M227.7 180.4h0M219.3 172.0h0M221.8 175.3h0M266.7 305.2h0"/>
<path stroke="#c83f4b" d="M373.0 71.9h0M389.5 72.2h0M272.2 118.1h0M283.9 119.6h0M281.3 116.6h0M273.4 117.8h0M395.4 253.3h0M271.6 297.5h0M283.7 300.8h0M291.0 300.6h0"/>
<path stroke="#eb6628" d="M197.9 36.3h0M358.1 118.7h0M418.0 118.3h0M421.7 118.7h0M429.3 118.3h0M288.6 298.9h0"/>
<path stroke="#e65d2f" d="M345.5 117.9h0M348.2 118.0h0M398.6 117.8h0M458.5 118.6h0M332.9 164.2h0M290.1 296.6h0"/>
<path stroke="#ef6f21" d="M189.4 15.0h0M196.0 38.7h0M485.7 117.7h0M330.9 164.6h0M331.8 164.5h0"/>
<path stroke="#f19112" d="M199.6 25.2h0M317.2 161.2h0M328.9 164.8h0"/>
<path stroke="#f0791c" d="M188.6 40.8h0M464.1 73.0h0M343.8 163.4h0"/>
<path stroke="#f18417" d="M280.0 290.6h0M284.0 293.9h0M294.7 299.3h0"/>
<path stroke="#f09c13" d="M318.2 167.9h0M310.8 159.6h0"/>
</g>
<g font-size="8.92" fill="#4d4d4d" text-anchor="end" style="will-change:transform">
<text x="127.3" y="30.6">Body satisfaction score</text>
<text x="127.3" y="72.0">Emotional symptoms SDQ scale</text>
<text x="127.3" y="81.0">(child-reported)</text>
<text x="127.3" y="121.2">Stress in Children (SiC) score</text>
<text x="127.3" y="162.6">Hyperactivity/Inattention SDQ</text>
<text x="127.3" y="171.6">scale (child-reported)</text>
<text x="127.3" y="207.9">Obsessive Compulsive Disorder</text>
<text x="127.3" y="216.9">Symptoms = Frequent</text>
<text x="127.3" y="253.2">Conduct problems SDQ scale</text>
<text x="127.3" y="262.1">(child-reported)</text>
<text x="127.3" y="298.4">Peer relationship problems SDQ</text>
<text x="127.3" y="307.4">scale (child-reported)</text>
<text x="127.3" y="347.6">Lost contact with a friend = Yes</text>
<text x="127.3" y="392.9">Depression Feelings = Yes</text>
<text x="127.3" y="438.2">Lack of sleep = Rarely or Never</text>
</g>
<g font-size="8.92" fill="#4d4d4d" text-anchor="middle" style="will-change:transform"><text x="135.2" y="474.6">-0.3</text><text x="258.3" y="474.6">0.0</text><text x="381.4" y="474.6">0.3</text><text x="504.5" y="474.6">0.6</text></g>
<text style="will-change:transform" x="378.4" y="495.0" font-size="11.1" fill="#000" text-anchor="middle">SHAP value</text>
<text style="will-change:transform" transform="translate(652.2,231.2) rotate(-90)" font-size="11" fill="#000" text-anchor="middle">Feature value</text>
<rect x="657.2" y="191.7" width="4" height="79.1" fill="url(#lg)"/>
<g font-size="8.92" fill="#4d4d4d" style="will-change:transform"><text x="667.2" y="195.2">High</text><text x="667.2" y="274.6">Low</text></g>
</svg>
</body></html>
